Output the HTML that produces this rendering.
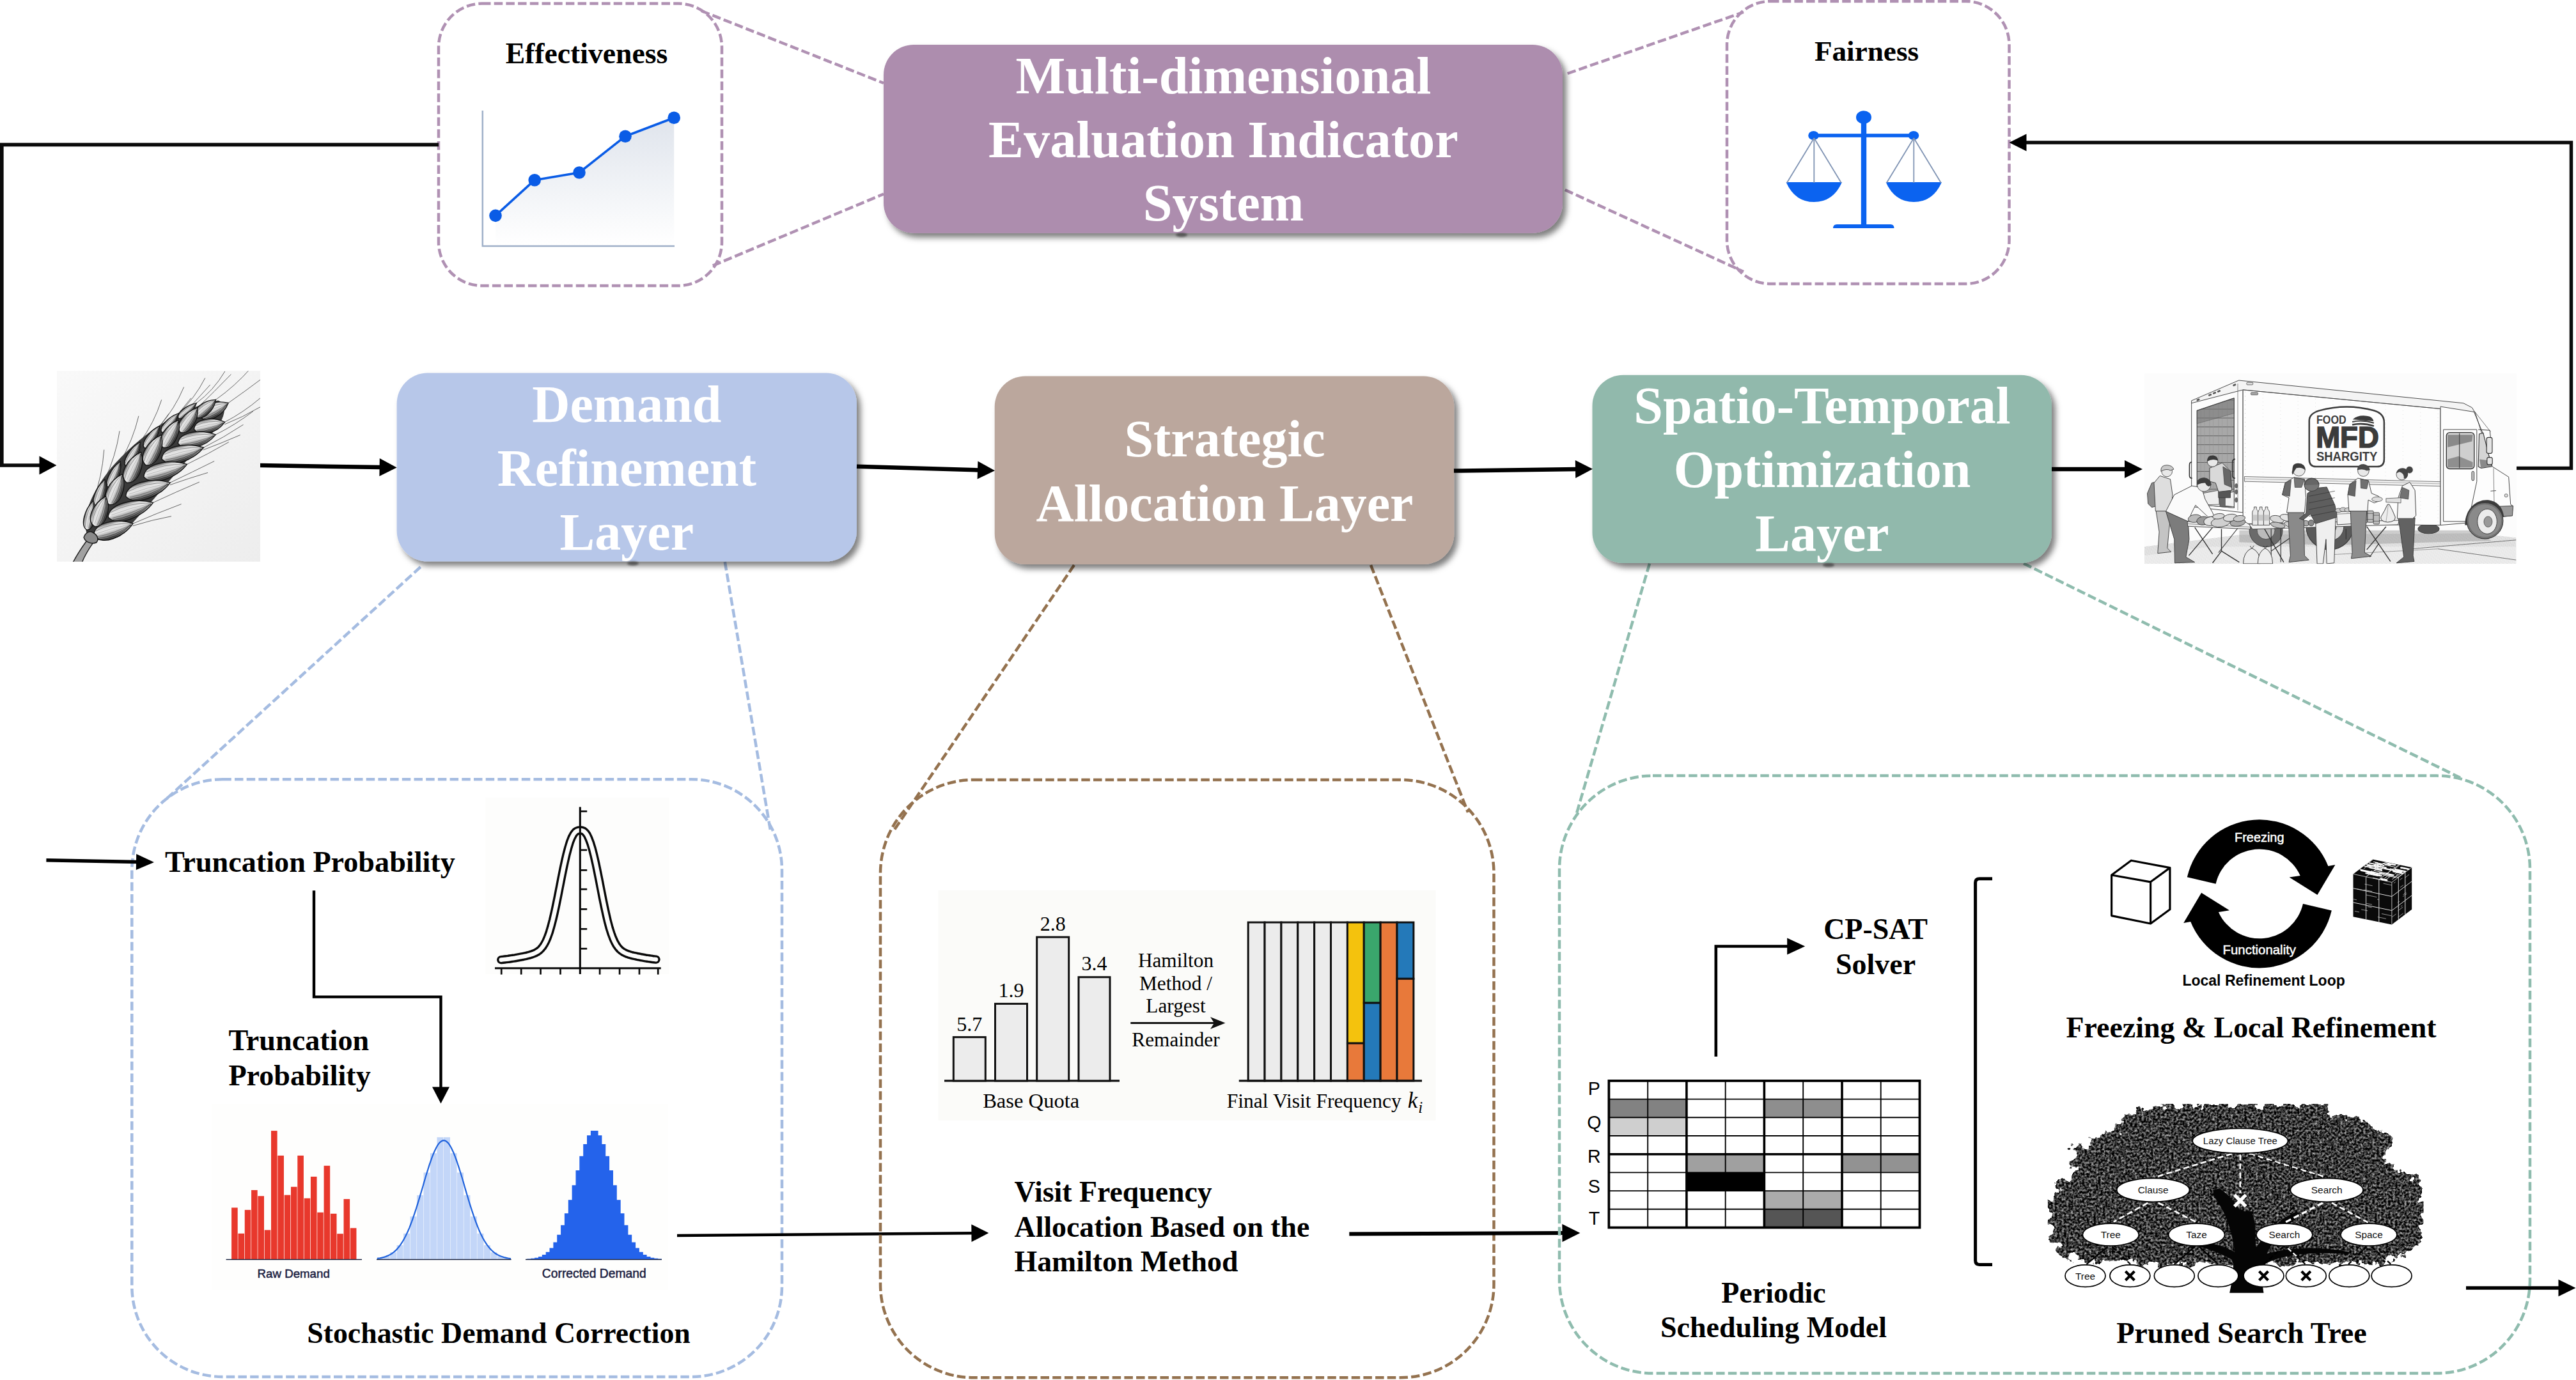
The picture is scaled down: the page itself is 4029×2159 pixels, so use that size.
<!DOCTYPE html>
<html><head><meta charset="utf-8"><title>Framework</title>
<style>
html,body{margin:0;padding:0;background:#fff;overflow:hidden;width:4029px;height:2159px}
svg{display:block}
text{white-space:pre}
</style></head><body>
<svg width="4029" height="2159" viewBox="0 0 4029 2159">
<defs>
<filter id="sh" x="-10%" y="-10%" width="125%" height="130%"><feDropShadow dx="6" dy="7" stdDeviation="5" flood-color="#000" flood-opacity="0.5"/></filter>
<filter id="tsh" x="-10%" y="-10%" width="125%" height="140%"><feDropShadow dx="3" dy="4" stdDeviation="2.5" flood-color="#000" flood-opacity="0.45"/></filter>
<filter id="blur2" x="-50%" y="-100%" width="200%" height="300%"><feGaussianBlur stdDeviation="1.6"/></filter>
<linearGradient id="effg" x1="0" y1="0" x2="0" y2="1"><stop offset="0" stop-color="#dfe4ec"/><stop offset="1" stop-color="#ffffff"/></linearGradient><linearGradient id="whbg" x1="0" y1="0" x2="1" y2="1"><stop offset="0" stop-color="#f9f9f9"/><stop offset="0.6" stop-color="#f2f2f2"/><stop offset="1" stop-color="#ededed"/></linearGradient>
<linearGradient id="grn" x1="0" y1="0" x2="0" y2="1" gradientUnits="objectBoundingBox"><stop offset="0" stop-color="#555"/><stop offset="0.2" stop-color="#d6d6d6"/><stop offset="0.45" stop-color="#ececec"/><stop offset="0.75" stop-color="#8c8c8c"/><stop offset="1" stop-color="#2a2a2a"/></linearGradient>
<clipPath id="whclip"><rect x="89" y="580.2" width="318" height="298.5"/></clipPath><pattern id="hatch" width="9" height="9" patternUnits="userSpaceOnUse" patternTransform="rotate(-20)"><rect width="9" height="9" fill="#ededed"/><line x1="0" y1="4" x2="9" y2="4" stroke="#a8a8a8" stroke-width="1.7"/></pattern>
<pattern id="slat" width="60" height="60" patternUnits="userSpaceOnUse"><rect width="60" height="60" fill="#a8a8a8"/><line x1="0" y1="2" x2="60" y2="2" stroke="#555" stroke-width="4"/><line x1="20" y1="0" x2="20" y2="60" stroke="#8a8a8a" stroke-width="2"/><line x1="45" y1="0" x2="45" y2="60" stroke="#949494" stroke-width="2"/></pattern>
<clipPath id="trclip"><rect x="60" y="58" width="2508" height="1288"/></clipPath><linearGradient id="redg" x1="0" y1="0" x2="0" y2="1"><stop offset="0" stop-color="#e53328"/><stop offset="1" stop-color="#ea3e31"/></linearGradient><filter id="fol" x="-5%" y="-8%" width="110%" height="116%" color-interpolation-filters="sRGB">
<feTurbulence type="fractalNoise" baseFrequency="0.07" numOctaves="3" seed="5" result="noise"/>
<feDisplacementMap in="SourceGraphic" in2="noise" scale="34" xChannelSelector="R" yChannelSelector="G" result="shape"/>
<feTurbulence type="fractalNoise" baseFrequency="0.28" numOctaves="3" seed="11" result="fine"/>
<feColorMatrix in="fine" type="matrix" values="1.4 0 0 0 -0.47  1.4 0 0 0 -0.47  1.4 0 0 0 -0.47  0 0 0 0 1" result="gray"/>
<feComposite in="gray" in2="shape" operator="in"/>
</filter><clipPath id="treeclip"><rect x="3202.8" y="1726.9" width="587.7" height="296.8"/></clipPath>
</defs>
<rect width="4029" height="2159" fill="#fff"/>
<line x1="1097" y1="17" x2="1382" y2="130" stroke="#b091b3" stroke-width="4.5" stroke-dasharray="13.5 5.2"/><line x1="1114.8" y1="415.6" x2="1382" y2="303.5" stroke="#b091b3" stroke-width="4.5" stroke-dasharray="13.5 5.2"/><line x1="2451.7" y1="115" x2="2727" y2="19" stroke="#b091b3" stroke-width="4.5" stroke-dasharray="13.5 5.2"/><line x1="2447.8" y1="297" x2="2727" y2="425" stroke="#b091b3" stroke-width="4.5" stroke-dasharray="13.5 5.2"/><rect x="686" y="5.6" width="443" height="441.4" rx="68" ry="68" fill="none" stroke="#b091b3" stroke-width="4.5" stroke-dasharray="13.5 5.2"/><text x="917.5" y="98.5" font-family='"Liberation Serif", serif' font-size="45.7" font-weight="bold" text-anchor="middle" fill="#000" >Effectiveness</text><rect x="2701" y="2" width="441.5" height="442" rx="68" ry="68" fill="none" stroke="#b091b3" stroke-width="4.5" stroke-dasharray="13.5 5.2"/><text x="2919.5" y="94.5" font-family='"Liberation Serif", serif' font-size="45.2" font-weight="bold" text-anchor="middle" fill="#000" >Fairness</text><rect x="1382" y="70" width="1062" height="294.7" rx="47" fill="#ad8dae" filter="url(#sh)"/><text x="1913.5" y="146.4" font-family='"Liberation Serif", serif' font-size="82.4" font-weight="bold" text-anchor="middle" fill="#fff" >Multi-dimensional</text><text x="1913.5" y="245.6" font-family='"Liberation Serif", serif' font-size="82.4" font-weight="bold" text-anchor="middle" fill="#fff" >Evaluation Indicator</text><text x="1913.5" y="344.7" font-family='"Liberation Serif", serif' font-size="82.4" font-weight="bold" text-anchor="middle" fill="#fff" >System</text><polygon points="775,337.4 836.2,281.7 906,270 978,213.2 1054.2,184.3 1054.2,383 775,383" fill="url(#effg)"/><polyline points="754.8,173 754.8,385 1055,385" fill="none" stroke="#9fb0c8" stroke-width="2.5"/><polyline points="775,337.4 836.2,281.7 906,270 978,213.2 1054.2,184.3" fill="none" stroke="#0a5ce6" stroke-width="3.6" stroke-linejoin="round"/><circle cx="775" cy="337.4" r="9.8" fill="#0a5ce6"/><circle cx="836.2" cy="281.7" r="9.8" fill="#0a5ce6"/><circle cx="906" cy="270" r="9.8" fill="#0a5ce6"/><circle cx="978" cy="213.2" r="9.8" fill="#0a5ce6"/><circle cx="1054.2" cy="184.3" r="9.8" fill="#0a5ce6"/><rect x="2910.8" y="184" width="8.4" height="168" fill="#0b63f0"/><ellipse cx="2915" cy="183.5" rx="12" ry="10.3" fill="#0b63f0"/><rect x="2836" y="209.2" width="157" height="5.6" fill="#0b63f0"/><ellipse cx="2836.5" cy="212" rx="8.3" ry="7" fill="#0b63f0"/><ellipse cx="2993" cy="212" rx="8.3" ry="7" fill="#0b63f0"/><path d="M2867 357 Q2867 351 2873 351 L2957 351 Q2962.5 351 2962.5 357 Z" fill="#0b63f0"/><path d="M2793.6000000000004 285 L2881.0 285 Q2867.3 316 2837.3 316 Q2807.3 316 2793.6000000000004 285 Z" fill="#0b63f0"/><line x1="2837.3" y1="216" x2="2794.8" y2="286" stroke="#7f93b3" stroke-width="1.8"/><line x1="2837.3" y1="216" x2="2837.3" y2="286" stroke="#7f93b3" stroke-width="1.8"/><line x1="2837.3" y1="216" x2="2879.8" y2="286" stroke="#7f93b3" stroke-width="1.8"/><path d="M2949.6000000000004 285 L3037.0 285 Q3023.3 316 2993.3 316 Q2963.3 316 2949.6000000000004 285 Z" fill="#0b63f0"/><line x1="2993.3" y1="216" x2="2950.8" y2="286" stroke="#7f93b3" stroke-width="1.8"/><line x1="2993.3" y1="216" x2="2993.3" y2="286" stroke="#7f93b3" stroke-width="1.8"/><line x1="2993.3" y1="216" x2="3035.8" y2="286" stroke="#7f93b3" stroke-width="1.8"/><polyline points="686,226.3 2.8,226.3 2.8,728 65,728" fill="none" stroke="#0b0b0b" stroke-width="5.7"/><polygon points="88.5,728.0 61.5,742.5 61.5,713.5" fill="#000"/><polyline points="3936,732.5 4021.5,732.5 4021.5,223 3168,223" fill="none" stroke="#0b0b0b" stroke-width="5.5"/><polygon points="3142.5,223.0 3169.5,209.5 3169.5,236.5" fill="#000"/><line x1="657.7" y1="887" x2="259.5" y2="1250.6" stroke="#a5bce1" stroke-width="4.5" stroke-dasharray="13.5 5.2"/><line x1="1133.8" y1="879" x2="1205" y2="1299.5" stroke="#a5bce1" stroke-width="4.5" stroke-dasharray="13.5 5.2"/><line x1="1680" y1="884" x2="1397.8" y2="1299.6" stroke="#94724f" stroke-width="4.5" stroke-dasharray="13.5 5.2"/><line x1="2144" y1="884" x2="2296" y2="1271" stroke="#94724f" stroke-width="4.5" stroke-dasharray="13.5 5.2"/><line x1="2580" y1="881.6" x2="2465" y2="1275.6" stroke="#8fbcae" stroke-width="4.5" stroke-dasharray="13.5 5.2"/><line x1="3165" y1="881.6" x2="3848" y2="1216.8" stroke="#8fbcae" stroke-width="4.5" stroke-dasharray="13.5 5.2"/><rect x="620.6" y="583.6" width="719.4" height="294.69999999999993" rx="48" fill="#b7c7e9" filter="url(#sh)"/><text x="980.3" y="660.3" font-family='"Liberation Serif", serif' font-size="82" font-weight="bold" text-anchor="middle" fill="#fff" >Demand</text><text x="980.3" y="760.2" font-family='"Liberation Serif", serif' font-size="82" font-weight="bold" text-anchor="middle" fill="#fff" >Refinement</text><text x="980.3" y="860" font-family='"Liberation Serif", serif' font-size="82" font-weight="bold" text-anchor="middle" fill="#fff" >Layer</text><rect x="1555.7" y="588.4" width="718.6000000000001" height="294.6" rx="48" fill="#bba79d" filter="url(#sh)"/><text x="1915.5" y="714.4" font-family='"Liberation Serif", serif' font-size="82" font-weight="bold" text-anchor="middle" fill="#fff" >Strategic</text><text x="1915.5" y="814.5" font-family='"Liberation Serif", serif' font-size="82" font-weight="bold" text-anchor="middle" fill="#fff" >Allocation Layer</text><rect x="2490.5" y="586.8" width="718.5" height="294.20000000000005" rx="48" fill="#91b9ac" filter="url(#sh)"/><text x="2850" y="662" font-family='"Liberation Serif", serif' font-size="82" font-weight="bold" text-anchor="middle" fill="#fff" >Spatio-Temporal</text><text x="2850" y="762" font-family='"Liberation Serif", serif' font-size="82" font-weight="bold" text-anchor="middle" fill="#fff" >Optimization</text><text x="2850" y="861.7" font-family='"Liberation Serif", serif' font-size="82" font-weight="bold" text-anchor="middle" fill="#fff" >Layer</text><polyline points="407.0,728.0 595.6,731.1" fill="none" stroke="#000" stroke-width="6.5" stroke-linejoin="miter"/><polygon points="620.6,731.5 593.4,745.1 593.8,717.1" fill="#000"/><polyline points="1340.0,729.7 1531.0,735.4" fill="none" stroke="#000" stroke-width="6.5" stroke-linejoin="miter"/><polygon points="1556.0,736.2 1528.6,749.4 1529.4,721.4" fill="#000"/><polyline points="2274.0,736.6 2466.0,734.1" fill="none" stroke="#000" stroke-width="6.5" stroke-linejoin="miter"/><polygon points="2491.0,733.8 2464.2,748.1 2463.8,720.1" fill="#000"/><polyline points="3209.0,734.0 3325.0,734.0" fill="none" stroke="#000" stroke-width="6.5" stroke-linejoin="miter"/><polygon points="3351.0,734.0 3323.0,748.0 3323.0,720.0" fill="#000"/><ellipse cx="1848" cy="367.5" rx="9" ry="3.2" fill="#222" opacity="0.55" filter="url(#blur2)"/><ellipse cx="990" cy="881.5" rx="9" ry="3.2" fill="#222" opacity="0.55" filter="url(#blur2)"/><ellipse cx="2860" cy="884" rx="9" ry="3.2" fill="#222" opacity="0.55" filter="url(#blur2)"/><rect x="89" y="580.2" width="318" height="298.5" fill="url(#whbg)"/><g clip-path="url(#whclip)"><g transform="translate(70,560) scale(0.2464)"><path d="M270,1130 C230,1000 300,850 420,700 C560,540 800,330 1100,270 C1180,300 1130,420 1040,500 C900,640 700,900 480,1130 C420,1160 320,1170 270,1130 Z" fill="#3a3a3a"/><path d="M559.3,1052.0 Q710.6,986.2 865.3,928.4" fill="none" stroke="#4a4a4a" stroke-width="3.4" stroke-linecap="round"/><path d="M559.3,1066.0 Q678.5,1028.4 801.9,1005.5" fill="none" stroke="#4a4a4a" stroke-width="3.4" stroke-linecap="round"/><path d="M687.7,918.6 Q832.7,851.0 980.0,788.5" fill="none" stroke="#4a4a4a" stroke-width="3.4" stroke-linecap="round"/><path d="M796.1,791.9 Q936.0,725.1 1074.7,656.0" fill="none" stroke="#4a4a4a" stroke-width="3.4" stroke-linecap="round"/><path d="M796.1,805.9 Q913.9,764.1 1033.8,728.6" fill="none" stroke="#4a4a4a" stroke-width="3.4" stroke-linecap="round"/><path d="M902.0,675.7 Q1036.8,610.0 1166.9,534.9" fill="none" stroke="#4a4a4a" stroke-width="3.4" stroke-linecap="round"/><path d="M1007.8,569.4 Q1137.6,504.7 1259.0,424.4" fill="none" stroke="#4a4a4a" stroke-width="3.4" stroke-linecap="round"/><path d="M1007.8,583.4 Q1124.9,539.6 1239.6,489.8" fill="none" stroke="#4a4a4a" stroke-width="3.4" stroke-linecap="round"/><path d="M1084.4,487.4 Q1209.7,425.0 1321.8,339.1" fill="none" stroke="#4a4a4a" stroke-width="3.4" stroke-linecap="round"/><path d="M1142.4,407.5 Q1262.2,345.2 1366.3,256.5" fill="none" stroke="#4a4a4a" stroke-width="3.4" stroke-linecap="round"/><path d="M1142.4,421.5 Q1258.7,375.7 1367.1,311.9" fill="none" stroke="#4a4a4a" stroke-width="3.4" stroke-linecap="round"/><path d="M1164.9,286.2 Q1271.4,211.6 1375.2,133.3" fill="none" stroke="#4a4a4a" stroke-width="3.4" stroke-linecap="round"/><path d="M387.1,878.7 Q464.3,750.1 537.1,618.9" fill="none" stroke="#4a4a4a" stroke-width="3.4" stroke-linecap="round"/><path d="M491.0,738.3 Q574.9,614.0 654.4,486.7" fill="none" stroke="#4a4a4a" stroke-width="3.4" stroke-linecap="round"/><path d="M610.4,597.6 Q699.7,477.0 786.8,354.9" fill="none" stroke="#4a4a4a" stroke-width="3.4" stroke-linecap="round"/><path d="M738.8,489.2 Q833.2,372.6 927.6,256.1" fill="none" stroke="#4a4a4a" stroke-width="3.4" stroke-linecap="round"/><path d="M848.5,394.5 Q947.9,282.2 1049.2,171.6" fill="none" stroke="#4a4a4a" stroke-width="3.4" stroke-linecap="round"/><path d="M969.5,317.2 Q1077.4,213.0 1181.6,105.0" fill="none" stroke="#4a4a4a" stroke-width="3.4" stroke-linecap="round"/><path d="M1085.1,265.4 Q1208.0,179.3 1308.1,64.6" fill="none" stroke="#4a4a4a" stroke-width="3.4" stroke-linecap="round"/><path d="M307.8,907.1 Q364.2,752.0 376.4,584.3" fill="none" stroke="#4a4a4a" stroke-width="3.4" stroke-linecap="round"/><path d="M381.4,771.6 Q450.2,627.2 474.9,465.6" fill="none" stroke="#4a4a4a" stroke-width="3.4" stroke-linecap="round"/><path d="M479.6,657.5 Q559.5,524.6 595.8,370.1" fill="none" stroke="#4a4a4a" stroke-width="3.4" stroke-linecap="round"/><path d="M605.0,534.1 Q694.2,413.5 741.2,266.8" fill="none" stroke="#4a4a4a" stroke-width="3.4" stroke-linecap="round"/><path d="M728.8,432.4 Q824.8,323.8 882.4,186.4" fill="none" stroke="#4a4a4a" stroke-width="3.4" stroke-linecap="round"/><path d="M848.5,352.5 Q951.7,258.0 1017.0,128.9" fill="none" stroke="#4a4a4a" stroke-width="3.4" stroke-linecap="round"/><path d="M962.5,286.8 Q1071.7,207.4 1143.1,86.1" fill="none" stroke="#4a4a4a" stroke-width="3.4" stroke-linecap="round"/><g transform="translate(985.1,373.8) rotate(-26.0)"><path d="M0,0 C20.0,-68.9 132.0,-57.0 200.0,0 C140.0,57.0 24.0,68.9 0,0 Z" fill="url(#grn)" stroke="#151515" stroke-width="6"/><path d="M16.0,11.4 Q100.0,22.1 190.0,1.4" fill="none" stroke="#666" stroke-width="3"/><path d="M16.0,20.9 Q100.0,40.5 190.0,2.6" fill="none" stroke="#333" stroke-width="3"/><path d="M16.0,28.5 Q100.0,55.2 190.0,3.6" fill="none" stroke="#222" stroke-width="3"/><path d="M16.0,-5.7 Q100.0,-11.0 190.0,-0.7" fill="none" stroke="#aaa" stroke-width="3"/><path d="M16.0,-20.9 Q100.0,-40.5 190.0,-2.6" fill="none" stroke="#777" stroke-width="3"/></g><g transform="translate(847.5,383.2) rotate(-40.0)"><path d="M0,0 C15.0,-34.8 99.0,-28.8 150.0,0 C105.0,28.8 18.0,34.8 0,0 Z" fill="url(#grn)" stroke="#151515" stroke-width="6"/><path d="M12.0,5.8 Q75.0,11.2 142.5,0.7" fill="none" stroke="#666" stroke-width="3"/><path d="M12.0,10.6 Q75.0,20.5 142.5,1.3" fill="none" stroke="#333" stroke-width="3"/><path d="M12.0,14.4 Q75.0,27.9 142.5,1.8" fill="none" stroke="#222" stroke-width="3"/><path d="M12.0,-2.9 Q75.0,-5.6 142.5,-0.4" fill="none" stroke="#aaa" stroke-width="3"/><path d="M12.0,-10.6 Q75.0,-20.5 142.5,-1.3" fill="none" stroke="#777" stroke-width="3"/></g><g transform="translate(954.9,374.6) rotate(-40.0)"><path d="M0,0 C17.0,-54.4 112.2,-45.0 170.0,0 C119.0,45.0 20.4,54.4 0,0 Z" fill="url(#grn)" stroke="#151515" stroke-width="6"/><path d="M13.6,9.0 Q85.0,17.4 161.5,1.1" fill="none" stroke="#666" stroke-width="3"/><path d="M13.6,16.5 Q85.0,32.0 161.5,2.1" fill="none" stroke="#333" stroke-width="3"/><path d="M13.6,22.5 Q85.0,43.6 161.5,2.8" fill="none" stroke="#222" stroke-width="3"/><path d="M13.6,-4.5 Q85.0,-8.7 161.5,-0.6" fill="none" stroke="#aaa" stroke-width="3"/><path d="M13.6,-16.5 Q85.0,-32.0 161.5,-2.1" fill="none" stroke="#777" stroke-width="3"/></g><g transform="translate(947.6,452.5) rotate(-13.0)"><path d="M0,0 C20.0,-65.2 132.0,-54.0 200.0,0 C140.0,54.0 24.0,65.2 0,0 Z" fill="url(#grn)" stroke="#151515" stroke-width="6"/><path d="M16.0,10.8 Q100.0,20.9 190.0,1.4" fill="none" stroke="#666" stroke-width="3"/><path d="M16.0,19.8 Q100.0,38.4 190.0,2.5" fill="none" stroke="#333" stroke-width="3"/><path d="M16.0,27.0 Q100.0,52.3 190.0,3.4" fill="none" stroke="#222" stroke-width="3"/><path d="M16.0,-5.4 Q100.0,-10.5 190.0,-0.7" fill="none" stroke="#aaa" stroke-width="3"/><path d="M16.0,-19.8 Q100.0,-38.4 190.0,-2.5" fill="none" stroke="#777" stroke-width="3"/></g><g transform="translate(741.5,471.5) rotate(-48.0)"><path d="M0,0 C16.0,-37.7 105.6,-31.2 160.0,0 C112.0,31.2 19.2,37.7 0,0 Z" fill="url(#grn)" stroke="#151515" stroke-width="6"/><path d="M12.8,6.2 Q80.0,12.1 152.0,0.8" fill="none" stroke="#666" stroke-width="3"/><path d="M12.8,11.4 Q80.0,22.2 152.0,1.4" fill="none" stroke="#333" stroke-width="3"/><path d="M12.8,15.6 Q80.0,30.2 152.0,2.0" fill="none" stroke="#222" stroke-width="3"/><path d="M12.8,-3.1 Q80.0,-6.0 152.0,-0.4" fill="none" stroke="#aaa" stroke-width="3"/><path d="M12.8,-11.4 Q80.0,-22.2 152.0,-1.4" fill="none" stroke="#777" stroke-width="3"/></g><g transform="translate(860.5,472.8) rotate(-55.0)"><path d="M0,0 C19.0,-61.6 125.4,-51.0 190.0,0 C133.0,51.0 22.8,61.6 0,0 Z" fill="url(#grn)" stroke="#151515" stroke-width="6"/><path d="M15.2,10.2 Q95.0,19.8 180.5,1.3" fill="none" stroke="#666" stroke-width="3"/><path d="M15.2,18.7 Q95.0,36.2 180.5,2.3" fill="none" stroke="#333" stroke-width="3"/><path d="M15.2,25.5 Q95.0,49.4 180.5,3.2" fill="none" stroke="#222" stroke-width="3"/><path d="M15.2,-5.1 Q95.0,-9.9 180.5,-0.6" fill="none" stroke="#aaa" stroke-width="3"/><path d="M15.2,-18.7 Q95.0,-36.2 180.5,-2.3" fill="none" stroke="#777" stroke-width="3"/></g><g transform="translate(845.6,542.6) rotate(-13.0)"><path d="M0,0 C24.5,-71.0 161.7,-58.8 245.0,0 C171.5,58.8 29.4,71.0 0,0 Z" fill="url(#grn)" stroke="#151515" stroke-width="6"/><path d="M19.6,11.8 Q122.5,22.8 232.8,1.5" fill="none" stroke="#666" stroke-width="3"/><path d="M19.6,21.6 Q122.5,41.8 232.8,2.7" fill="none" stroke="#333" stroke-width="3"/><path d="M19.6,29.4 Q122.5,57.0 232.8,3.7" fill="none" stroke="#222" stroke-width="3"/><path d="M19.6,-5.9 Q122.5,-11.4 232.8,-0.7" fill="none" stroke="#aaa" stroke-width="3"/><path d="M19.6,-21.6 Q122.5,-41.8 232.8,-2.7" fill="none" stroke="#777" stroke-width="3"/></g><g transform="translate(631.2,571.6) rotate(-55.0)"><path d="M0,0 C17.0,-40.6 112.2,-33.6 170.0,0 C119.0,33.6 20.4,40.6 0,0 Z" fill="url(#grn)" stroke="#151515" stroke-width="6"/><path d="M13.6,6.7 Q85.0,13.0 161.5,0.8" fill="none" stroke="#666" stroke-width="3"/><path d="M13.6,12.3 Q85.0,23.9 161.5,1.5" fill="none" stroke="#333" stroke-width="3"/><path d="M13.6,16.8 Q85.0,32.6 161.5,2.1" fill="none" stroke="#222" stroke-width="3"/><path d="M13.6,-3.4 Q85.0,-6.5 161.5,-0.4" fill="none" stroke="#aaa" stroke-width="3"/><path d="M13.6,-12.3 Q85.0,-23.9 161.5,-1.5" fill="none" stroke="#777" stroke-width="3"/></g><g transform="translate(751.5,569.5) rotate(-61.0)"><path d="M0,0 C20.0,-66.7 132.0,-55.2 200.0,0 C140.0,55.2 24.0,66.7 0,0 Z" fill="url(#grn)" stroke="#151515" stroke-width="6"/><path d="M16.0,11.0 Q100.0,21.4 190.0,1.4" fill="none" stroke="#666" stroke-width="3"/><path d="M16.0,20.2 Q100.0,39.2 190.0,2.5" fill="none" stroke="#333" stroke-width="3"/><path d="M16.0,27.6 Q100.0,53.5 190.0,3.5" fill="none" stroke="#222" stroke-width="3"/><path d="M16.0,-5.5 Q100.0,-10.7 190.0,-0.7" fill="none" stroke="#aaa" stroke-width="3"/><path d="M16.0,-20.2 Q100.0,-39.2 190.0,-2.5" fill="none" stroke="#777" stroke-width="3"/></g><g transform="translate(742.2,640.6) rotate(-15.0)"><path d="M0,0 C27.5,-76.1 181.5,-63.0 275.0,0 C192.5,63.0 33.0,76.1 0,0 Z" fill="url(#grn)" stroke="#151515" stroke-width="6"/><path d="M22.0,12.6 Q137.5,24.4 261.2,1.6" fill="none" stroke="#666" stroke-width="3"/><path d="M22.0,23.1 Q137.5,44.8 261.2,2.9" fill="none" stroke="#333" stroke-width="3"/><path d="M22.0,31.5 Q137.5,61.0 261.2,3.9" fill="none" stroke="#222" stroke-width="3"/><path d="M22.0,-6.3 Q137.5,-12.2 261.2,-0.8" fill="none" stroke="#aaa" stroke-width="3"/><path d="M22.0,-23.1 Q137.5,-44.8 261.2,-2.9" fill="none" stroke="#777" stroke-width="3"/></g><g transform="translate(515.0,689.9) rotate(-60.0)"><path d="M0,0 C18.0,-43.5 118.8,-36.0 180.0,0 C126.0,36.0 21.6,43.5 0,0 Z" fill="url(#grn)" stroke="#151515" stroke-width="6"/><path d="M14.4,7.2 Q90.0,14.0 171.0,0.9" fill="none" stroke="#666" stroke-width="3"/><path d="M14.4,13.2 Q90.0,25.6 171.0,1.7" fill="none" stroke="#333" stroke-width="3"/><path d="M14.4,18.0 Q90.0,34.9 171.0,2.2" fill="none" stroke="#222" stroke-width="3"/><path d="M14.4,-3.6 Q90.0,-7.0 171.0,-0.5" fill="none" stroke="#aaa" stroke-width="3"/><path d="M14.4,-13.2 Q90.0,-25.6 171.0,-1.7" fill="none" stroke="#777" stroke-width="3"/></g><g transform="translate(641.2,680.8) rotate(-63.0)"><path d="M0,0 C21.5,-71.0 141.9,-58.8 215.0,0 C150.5,58.8 25.8,71.0 0,0 Z" fill="url(#grn)" stroke="#151515" stroke-width="6"/><path d="M17.2,11.8 Q107.5,22.8 204.2,1.5" fill="none" stroke="#666" stroke-width="3"/><path d="M17.2,21.6 Q107.5,41.8 204.2,2.7" fill="none" stroke="#333" stroke-width="3"/><path d="M17.2,29.4 Q107.5,57.0 204.2,3.7" fill="none" stroke="#222" stroke-width="3"/><path d="M17.2,-5.9 Q107.5,-11.4 204.2,-0.7" fill="none" stroke="#aaa" stroke-width="3"/><path d="M17.2,-21.6 Q107.5,-41.8 204.2,-2.7" fill="none" stroke="#777" stroke-width="3"/></g><g transform="translate(628.0,754.3) rotate(-16.0)"><path d="M0,0 C28.5,-79.8 188.1,-66.0 285.0,0 C199.5,66.0 34.2,79.8 0,0 Z" fill="url(#grn)" stroke="#151515" stroke-width="6"/><path d="M22.8,13.2 Q142.5,25.6 270.8,1.7" fill="none" stroke="#666" stroke-width="3"/><path d="M22.8,24.2 Q142.5,46.9 270.8,3.0" fill="none" stroke="#333" stroke-width="3"/><path d="M22.8,33.0 Q142.5,63.9 270.8,4.1" fill="none" stroke="#222" stroke-width="3"/><path d="M22.8,-6.6 Q142.5,-12.8 270.8,-0.8" fill="none" stroke="#aaa" stroke-width="3"/><path d="M22.8,-24.2 Q142.5,-46.9 270.8,-3.0" fill="none" stroke="#777" stroke-width="3"/></g><g transform="translate(404.4,826.5) rotate(-66.0)"><path d="M0,0 C18.5,-44.9 122.1,-37.2 185.0,0 C129.5,37.2 22.2,44.9 0,0 Z" fill="url(#grn)" stroke="#151515" stroke-width="6"/><path d="M14.8,7.4 Q92.5,14.4 175.8,0.9" fill="none" stroke="#666" stroke-width="3"/><path d="M14.8,13.6 Q92.5,26.4 175.8,1.7" fill="none" stroke="#333" stroke-width="3"/><path d="M14.8,18.6 Q92.5,36.0 175.8,2.3" fill="none" stroke="#222" stroke-width="3"/><path d="M14.8,-3.7 Q92.5,-7.2 175.8,-0.5" fill="none" stroke="#aaa" stroke-width="3"/><path d="M14.8,-13.6 Q92.5,-26.4 175.8,-1.7" fill="none" stroke="#777" stroke-width="3"/></g><g transform="translate(519.6,792.4) rotate(-65.0)"><path d="M0,0 C21.5,-72.5 141.9,-60.0 215.0,0 C150.5,60.0 25.8,72.5 0,0 Z" fill="url(#grn)" stroke="#151515" stroke-width="6"/><path d="M17.2,12.0 Q107.5,23.2 204.2,1.5" fill="none" stroke="#666" stroke-width="3"/><path d="M17.2,22.0 Q107.5,42.6 204.2,2.8" fill="none" stroke="#333" stroke-width="3"/><path d="M17.2,30.0 Q107.5,58.1 204.2,3.8" fill="none" stroke="#222" stroke-width="3"/><path d="M17.2,-6.0 Q107.5,-11.6 204.2,-0.8" fill="none" stroke="#aaa" stroke-width="3"/><path d="M17.2,-22.0 Q107.5,-42.6 204.2,-2.8" fill="none" stroke="#777" stroke-width="3"/></g><g transform="translate(513.9,878.1) rotate(-17.0)"><path d="M0,0 C29.5,-81.2 194.7,-67.2 295.0,0 C206.5,67.2 35.4,81.2 0,0 Z" fill="url(#grn)" stroke="#151515" stroke-width="6"/><path d="M23.6,13.4 Q147.5,26.0 280.2,1.7" fill="none" stroke="#666" stroke-width="3"/><path d="M23.6,24.6 Q147.5,47.7 280.2,3.1" fill="none" stroke="#333" stroke-width="3"/><path d="M23.6,33.6 Q147.5,65.1 280.2,4.2" fill="none" stroke="#222" stroke-width="3"/><path d="M23.6,-6.7 Q147.5,-13.0 280.2,-0.8" fill="none" stroke="#aaa" stroke-width="3"/><path d="M23.6,-24.6 Q147.5,-47.7 280.2,-3.1" fill="none" stroke="#777" stroke-width="3"/></g><g transform="translate(322.6,952.4) rotate(-72.0)"><path d="M0,0 C19.0,-47.9 125.4,-39.6 190.0,0 C133.0,39.6 22.8,47.9 0,0 Z" fill="url(#grn)" stroke="#151515" stroke-width="6"/><path d="M15.2,7.9 Q95.0,15.3 180.5,1.0" fill="none" stroke="#666" stroke-width="3"/><path d="M15.2,14.5 Q95.0,28.1 180.5,1.8" fill="none" stroke="#333" stroke-width="3"/><path d="M15.2,19.8 Q95.0,38.4 180.5,2.5" fill="none" stroke="#222" stroke-width="3"/><path d="M15.2,-4.0 Q95.0,-7.7 180.5,-0.5" fill="none" stroke="#aaa" stroke-width="3"/><path d="M15.2,-14.5 Q95.0,-28.1 180.5,-1.8" fill="none" stroke="#777" stroke-width="3"/></g><g transform="translate(409.0,931.7) rotate(-67.0)"><path d="M0,0 C21.0,-72.5 138.6,-60.0 210.0,0 C147.0,60.0 25.2,72.5 0,0 Z" fill="url(#grn)" stroke="#151515" stroke-width="6"/><path d="M16.8,12.0 Q105.0,23.2 199.5,1.5" fill="none" stroke="#666" stroke-width="3"/><path d="M16.8,22.0 Q105.0,42.6 199.5,2.8" fill="none" stroke="#333" stroke-width="3"/><path d="M16.8,30.0 Q105.0,58.1 199.5,3.8" fill="none" stroke="#222" stroke-width="3"/><path d="M16.8,-6.0 Q105.0,-11.6 199.5,-0.8" fill="none" stroke="#aaa" stroke-width="3"/><path d="M16.8,-22.0 Q105.0,-42.6 199.5,-2.8" fill="none" stroke="#777" stroke-width="3"/></g><g transform="translate(402.3,1011.4) rotate(-18.0)"><path d="M0,0 C30.0,-81.2 198.0,-67.2 300.0,0 C210.0,67.2 36.0,81.2 0,0 Z" fill="url(#grn)" stroke="#151515" stroke-width="6"/><path d="M24.0,13.4 Q150.0,26.0 285.0,1.7" fill="none" stroke="#666" stroke-width="3"/><path d="M24.0,24.6 Q150.0,47.7 285.0,3.1" fill="none" stroke="#333" stroke-width="3"/><path d="M24.0,33.6 Q150.0,65.1 285.0,4.2" fill="none" stroke="#222" stroke-width="3"/><path d="M24.0,-6.7 Q150.0,-13.0 285.0,-0.8" fill="none" stroke="#aaa" stroke-width="3"/><path d="M24.0,-24.6 Q150.0,-47.7 285.0,-3.1" fill="none" stroke="#777" stroke-width="3"/></g><g transform="translate(268.2,1092.9) rotate(-78.0)"><path d="M0,0 C19.0,-50.8 125.4,-42.0 190.0,0 C133.0,42.0 22.8,50.8 0,0 Z" fill="url(#grn)" stroke="#151515" stroke-width="6"/><path d="M15.2,8.4 Q95.0,16.3 180.5,1.1" fill="none" stroke="#666" stroke-width="3"/><path d="M15.2,15.4 Q95.0,29.8 180.5,1.9" fill="none" stroke="#333" stroke-width="3"/><path d="M15.2,21.0 Q95.0,40.7 180.5,2.6" fill="none" stroke="#222" stroke-width="3"/><path d="M15.2,-4.2 Q95.0,-8.1 180.5,-0.5" fill="none" stroke="#aaa" stroke-width="3"/><path d="M15.2,-15.4 Q95.0,-29.8 180.5,-1.9" fill="none" stroke="#777" stroke-width="3"/></g><g transform="translate(316.9,1071.3) rotate(-70.0)"><path d="M0,0 C20.5,-72.5 135.3,-60.0 205.0,0 C143.5,60.0 24.6,72.5 0,0 Z" fill="url(#grn)" stroke="#151515" stroke-width="6"/><path d="M16.4,12.0 Q102.5,23.2 194.8,1.5" fill="none" stroke="#666" stroke-width="3"/><path d="M16.4,22.0 Q102.5,42.6 194.8,2.8" fill="none" stroke="#333" stroke-width="3"/><path d="M16.4,30.0 Q102.5,58.1 194.8,3.8" fill="none" stroke="#222" stroke-width="3"/><path d="M16.4,-6.0 Q102.5,-11.6 194.8,-0.8" fill="none" stroke="#aaa" stroke-width="3"/><path d="M16.4,-22.0 Q102.5,-42.6 194.8,-2.8" fill="none" stroke="#777" stroke-width="3"/></g><g transform="translate(310.7,1128.0) rotate(-17.0)"><path d="M0,0 C26.0,-79.8 171.6,-66.0 260.0,0 C182.0,66.0 31.2,79.8 0,0 Z" fill="url(#grn)" stroke="#151515" stroke-width="6"/><path d="M20.8,13.2 Q130.0,25.6 247.0,1.7" fill="none" stroke="#666" stroke-width="3"/><path d="M20.8,24.2 Q130.0,46.9 247.0,3.0" fill="none" stroke="#333" stroke-width="3"/><path d="M20.8,33.0 Q130.0,63.9 247.0,4.1" fill="none" stroke="#222" stroke-width="3"/><path d="M20.8,-6.6 Q130.0,-12.8 247.0,-0.8" fill="none" stroke="#aaa" stroke-width="3"/><path d="M20.8,-24.2 Q130.0,-46.9 247.0,-3.0" fill="none" stroke="#777" stroke-width="3"/></g><path d="M178,1300 C215,1230 245,1190 268,1158 L308,1172 C285,1205 255,1248 236,1300 Z" fill="#a2a2a2" stroke="#222" stroke-width="6"/><path d="M248,1140 C258,1108 285,1096 305,1108 C335,1125 345,1150 328,1172 C300,1184 258,1172 248,1140 Z" fill="#8a8a8a" stroke="#1a1a1a" stroke-width="6"/></g></g><rect x="3354" y="584" width="582" height="298" fill="#fcfcfc"/><g transform="translate(3340,570) scale(0.2319)" clip-path="url(#trclip)"><polygon points="60,1230 700,1150 2300,1140 2568,1170 2568,1346 60,1346" fill="url(#hatch)"/><polygon points="60,1346 60,1290 500,1230 2568,1230 2568,1346" fill="#fff" opacity="0.35"/><polygon points="700,1120 2300,1120 2400,1190 1300,1220 700,1200" fill="#8c8c8c" opacity="0.42"/><line x1="1860" y1="1245" x2="2568" y2="1185" stroke="#666" stroke-width="4" /><line x1="2040" y1="1245" x2="2568" y2="1320" stroke="#666" stroke-width="4" /><line x1="1300" y1="1285" x2="2040" y2="1245" stroke="#777" stroke-width="3" /><ellipse cx="880" cy="1120" rx="112" ry="112" fill="#6a6a6a" stroke="#3a3a3a" stroke-width="4"/><ellipse cx="880" cy="1120" rx="60" ry="60" fill="#bbb" stroke="#3a3a3a" stroke-width="3"/><ellipse cx="1977" cy="1110" rx="72" ry="32" fill="#555" stroke="#3a3a3a" stroke-width="4"/><ellipse cx="1310" cy="1090" rx="160" ry="160" fill="#5a5a5a" stroke="#3a3a3a" stroke-width="5"/><ellipse cx="1310" cy="1095" rx="95" ry="95" fill="#d8d8d8" stroke="#3a3a3a" stroke-width="4"/><ellipse cx="1310" cy="1095" rx="45" ry="45" fill="#aaa" stroke="#3a3a3a" stroke-width="3"/><polygon points="378,258 697,112 725,120 725,1000 378,960" fill="#fcfcfc" stroke="#3a3a3a" stroke-width="4" stroke-linejoin="round" /><polygon points="415,312 665,228 665,968 415,945" fill="url(#slat)" stroke="#3a3a3a" stroke-width="5" stroke-linejoin="round" /><polygon points="415,312 665,228 665,330 415,400" fill="#777" stroke="#3a3a3a" stroke-width="3" stroke-linejoin="round" opacity="0.55"/><polygon points="440,900 665,915 665,968 415,945 415,900" fill="#e9e9e9" stroke="#3a3a3a" stroke-width="3" stroke-linejoin="round" /><polygon points="725,165 2057,285 2057,1085 725,1075" fill="#fdfdfd" stroke="#3a3a3a" stroke-width="4" stroke-linejoin="round" /><polygon points="697,108 2212,262 2270,292 2290,325 2057,300 725,172 378,262 378,245" fill="#f4f4f4" stroke="#3a3a3a" stroke-width="4" stroke-linejoin="round" /><line x1="725" y1="172" x2="2057" y2="300" stroke="#3a3a3a" stroke-width="3" /><rect x="410" y="238" width="22" height="12" rx="4" fill="#555" transform="rotate(-23 410 238)"/><rect x="490" y="205" width="22" height="12" rx="4" fill="#555" transform="rotate(-23 490 205)"/><rect x="520" y="192" width="22" height="12" rx="4" fill="#555" transform="rotate(-23 520 192)"/><rect x="550" y="180" width="22" height="12" rx="4" fill="#555" transform="rotate(-23 550 180)"/><rect x="655" y="138" width="22" height="12" rx="4" fill="#555" transform="rotate(-23 655 138)"/><rect x="750" y="122" width="42" height="16" rx="5" fill="#ddd" stroke="#333" stroke-width="3"/><rect x="778" y="190" width="48" height="16" rx="6" fill="#aaa" stroke="#333" stroke-width="3"/><line x1="860" y1="202.15" x2="860" y2="1070" stroke="#bdbdbd" stroke-width="2.5" stroke-dasharray="3 22"/><line x1="978" y1="212.77" x2="978" y2="1070" stroke="#bdbdbd" stroke-width="2.5" stroke-dasharray="3 22"/><line x1="1096" y1="223.39" x2="1096" y2="1070" stroke="#bdbdbd" stroke-width="2.5" stroke-dasharray="3 22"/><line x1="1214" y1="234.01" x2="1214" y2="1070" stroke="#bdbdbd" stroke-width="2.5" stroke-dasharray="3 22"/><line x1="1332" y1="244.63" x2="1332" y2="1070" stroke="#bdbdbd" stroke-width="2.5" stroke-dasharray="3 22"/><line x1="1450" y1="255.25" x2="1450" y2="1070" stroke="#bdbdbd" stroke-width="2.5" stroke-dasharray="3 22"/><line x1="1568" y1="265.87" x2="1568" y2="1070" stroke="#bdbdbd" stroke-width="2.5" stroke-dasharray="3 22"/><line x1="1686" y1="276.49" x2="1686" y2="1070" stroke="#bdbdbd" stroke-width="2.5" stroke-dasharray="3 22"/><line x1="1804" y1="287.11" x2="1804" y2="1070" stroke="#bdbdbd" stroke-width="2.5" stroke-dasharray="3 22"/><line x1="1922" y1="297.73" x2="1922" y2="1070" stroke="#bdbdbd" stroke-width="2.5" stroke-dasharray="3 22"/><line x1="2040" y1="308.35" x2="2040" y2="1070" stroke="#bdbdbd" stroke-width="2.5" stroke-dasharray="3 22"/><line x1="740" y1="185" x2="740" y2="1070" stroke="#999" stroke-width="3" stroke-dasharray="3 26"/><polygon points="735,757 2057,792 2057,822 735,790" fill="#f2f2f2" stroke="#3a3a3a" stroke-width="3" stroke-linejoin="round" /><line x1="735" y1="772" x2="2057" y2="806" stroke="#777" stroke-width="2.5" /><line x1="690" y1="130" x2="690" y2="985" stroke="#555" stroke-width="3" /><path d="M380,660 q-16,0 -16,20 v70 q0,18 18,18" fill="none" stroke="#333" stroke-width="7"/><path d="M672,640 q-18,0 -18,20 v90 q0,18 18,18" fill="none" stroke="#333" stroke-width="7"/><ellipse cx="680" cy="820" rx="9" ry="16" fill="#666" stroke="#3a3a3a" stroke-width="2"/><ellipse cx="680" cy="860" rx="9" ry="16" fill="#666" stroke="#3a3a3a" stroke-width="2"/><ellipse cx="680" cy="915" rx="9" ry="16" fill="#666" stroke="#3a3a3a" stroke-width="2"/><polygon points="2057,285 2290,322 2407,690 2517,760 2530,945 2545,955 2540,1020 2460,1030 2290,1065 2057,1085" fill="#fdfdfd" stroke="#3a3a3a" stroke-width="4" stroke-linejoin="round" /><polygon points="2077,440 2302,440 2302,790 2245,1060 2077,1060" fill="#fefefe" stroke="#3a3a3a" stroke-width="4" stroke-linejoin="round" /><rect x="2097" y="460" width="188" height="245" rx="22" fill="#cfcfcf" stroke="#333" stroke-width="6"/><polygon points="2105,475 2275,475 2270,520 2105,560" fill="#8a8a8a" stroke="none" stroke-width="0" stroke-linejoin="round" /><polygon points="2105,640 2180,620 2275,660 2275,695 2105,695" fill="#8f8f8f" stroke="none" stroke-width="0" stroke-linejoin="round" /><line x1="2185" y1="465" x2="2185" y2="700" stroke="#444" stroke-width="5" /><polygon points="2318,470 2345,462 2402,690 2330,700 2312,690" fill="#d5d5d5" stroke="#3a3a3a" stroke-width="5" stroke-linejoin="round" /><polygon points="2320,640 2395,650 2400,690 2330,698" fill="#8a8a8a" stroke="none" stroke-width="0" stroke-linejoin="round" /><line x1="2282" y1="318" x2="2345" y2="470" stroke="#3a3a3a" stroke-width="4" /><line x1="2290" y1="322" x2="2395" y2="455" stroke="#3a3a3a" stroke-width="3" /><rect x="2368" y="493" width="38" height="108" rx="12" fill="#e4e4e4" stroke="#333" stroke-width="5"/><rect x="2371" y="628" width="36" height="48" rx="10" fill="#e4e4e4" stroke="#333" stroke-width="5"/><path d="M2312,440 L2390,445 L2395,495" fill="none" stroke="#333" stroke-width="4"/><rect x="2268" y="722" width="16" height="62" rx="8" fill="#ccc" stroke="#333" stroke-width="4"/><line x1="2415" y1="700" x2="2420" y2="990" stroke="#555" stroke-width="3" /><line x1="2395" y1="855" x2="2432" y2="852" stroke="#444" stroke-width="4" /><ellipse cx="2500" cy="885" rx="11" ry="11" fill="#ddd" stroke="#3a3a3a" stroke-width="3"/><polygon points="2455,958 2547,955 2542,1022 2455,1028" fill="#9a9a9a" stroke="#3a3a3a" stroke-width="4" stroke-linejoin="round" /><path d="M2222,1085 C2225,880 2470,860 2485,1030 L2455,1035 C2440,930 2290,930 2270,1085 Z" fill="#3c3c3c"/><ellipse cx="2357" cy="1055" rx="122" ry="122" fill="#777" stroke="#3a3a3a" stroke-width="5"/><ellipse cx="2357" cy="1055" rx="112" ry="112" fill="#8a8a8a" stroke="#555" stroke-width="2"/><ellipse cx="2372" cy="1060" rx="66" ry="84" fill="#ececec" stroke="#3a3a3a" stroke-width="4"/><ellipse cx="2378" cy="1062" rx="28" ry="36" fill="#999" stroke="#3a3a3a" stroke-width="3"/><path d="M1172,640 L1172,380 Q1172,332 1240,312 Q1425,262 1608,312 Q1677,332 1677,392 L1677,640 Q1677,690 1630,690 L1218,690 Q1172,690 1172,640 Z" fill="#fdfdfd" stroke="#3b3b3b" stroke-width="11"/><text x="1220" y="400" font-family='"Liberation Sans", sans-serif' font-weight="bold" font-size="80" fill="#3b3b3b" textLength="202" lengthAdjust="spacingAndGlyphs">FOOD</text><text x="1217" y="562" font-family='"Liberation Sans", sans-serif' font-weight="bold" font-size="196" fill="#3b3b3b" stroke="#3b3b3b" stroke-width="7" textLength="425" lengthAdjust="spacingAndGlyphs">MFD</text><text x="1220" y="650" font-family='"Liberation Sans", sans-serif' font-weight="bold" font-size="86" fill="#3b3b3b" textLength="412" lengthAdjust="spacingAndGlyphs">SHARGITY</text><path d="M1465,372 Q1500,340 1560,348 Q1600,352 1606,384 Z" fill="#3b3b3b"/><path d="M1462,388 Q1530,372 1608,396" fill="none" stroke="#3b3b3b" stroke-width="9"/><path d="M1462,408 Q1530,392 1608,416" fill="none" stroke="#3b3b3b" stroke-width="11"/><polygon points="560,860 640,850 650,960 570,960" fill="#666" stroke="#3a3a3a" stroke-width="3" stroke-linejoin="round" /><polygon points="455,870 560,850 565,945 455,948" fill="#eee" stroke="#3a3a3a" stroke-width="3" stroke-linejoin="round" /><polygon points="605,870 665,860 665,960 605,955" fill="#f0f0f0" stroke="#3a3a3a" stroke-width="3" stroke-linejoin="round" /><polygon points="560,850 640,850 640,900 560,900" fill="#555" stroke="#3a3a3a" stroke-width="4" stroke-linejoin="round" /><polygon points="500,700 585,665 640,720 650,850 560,860 540,800 500,790" fill="#d9d9d9" stroke="#3a3a3a" stroke-width="4" stroke-linejoin="round" /><polygon points="590,690 640,720 648,830 600,810" fill="#666" stroke="#3a3a3a" stroke-width="3" stroke-linejoin="round" /><ellipse cx="520" cy="655" rx="36" ry="36" fill="#e8e8e8" stroke="#3a3a3a" stroke-width="3.5"/><path d="M484,655 Q482,612 525,615 Q556,620 556,650 Q520,632 484,655 Z" fill="#3a3a3a"/><polygon points="80,870 110,800 150,790 160,950 110,965 85,940" fill="#8d8d8d" stroke="#3a3a3a" stroke-width="4" stroke-linejoin="round" /><polygon points="138,985 240,985 225,1130 215,1240 240,1265 150,1275 160,1130" fill="#c4c4c4" stroke="#3a3a3a" stroke-width="4" stroke-linejoin="round" /><polygon points="125,800 165,752 235,775 250,880 240,990 135,990" fill="#dedede" stroke="#3a3a3a" stroke-width="4" stroke-linejoin="round" /><ellipse cx="212" cy="722" rx="36" ry="36" fill="#e8e8e8" stroke="#3a3a3a" stroke-width="3.5"/><path d="M172,722 Q168,680 212,680 Q250,682 258,708 L236,716 Q210,700 172,722 Z" fill="#c9c9c9" stroke="#333" stroke-width="3.5"/><polygon points="205,992 355,1058 362,1180 340,1300 400,1335 265,1340 262,1180" fill="#7c7c7c" stroke="#3a3a3a" stroke-width="4" stroke-linejoin="round" /><polygon points="205,992 262,880 380,820 445,830 470,910 520,1000 530,1025 490,1030 405,950 380,1000 355,1060" fill="#fbfbfb" stroke="#3a3a3a" stroke-width="4" stroke-linejoin="round" /><ellipse cx="462" cy="812" rx="46" ry="46" fill="#e8e8e8" stroke="#3a3a3a" stroke-width="3.5"/><path d="M415,815 Q410,765 462,765 Q508,768 512,812 Q490,840 470,800 Q440,800 415,815 Z" fill="#3f3f3f"/><line x1="400" y1="1100" x2="520" y2="1280" stroke="#333" stroke-width="6" /><line x1="520" y1="1100" x2="360" y2="1290" stroke="#333" stroke-width="6" /><line x1="580" y1="1110" x2="580" y2="1260" stroke="#333" stroke-width="6" /><line x1="580" y1="1260" x2="520" y2="1340" stroke="#333" stroke-width="6" /><line x1="580" y1="1260" x2="700" y2="1335" stroke="#333" stroke-width="6" /><line x1="690" y1="1105" x2="560" y2="1270" stroke="#333" stroke-width="5" /><polygon points="350,1062 720,1050 775,1085 775,1112 352,1092" fill="#f3f3f3" stroke="#3a3a3a" stroke-width="4" stroke-linejoin="round" /><line x1="352" y1="1076" x2="775" y2="1098" stroke="#555" stroke-width="3" /><ellipse cx="400" cy="1040" rx="45" ry="26" fill="#bbb" stroke="#333" stroke-width="3.5" transform="rotate(-8 400 1040)"/><ellipse cx="455" cy="1055" rx="42" ry="28" fill="#999" stroke="#333" stroke-width="3.5" transform="rotate(-8 455 1055)"/><ellipse cx="510" cy="1058" rx="50" ry="30" fill="#e2e2e2" stroke="#333" stroke-width="3.5" transform="rotate(-8 510 1058)"/><ellipse cx="575" cy="1065" rx="66" ry="32" fill="#d0d0d0" stroke="#333" stroke-width="3.5" transform="rotate(-8 575 1065)"/><ellipse cx="690" cy="1068" rx="52" ry="24" fill="#a8a8a8" stroke="#333" stroke-width="3.5" transform="rotate(-8 690 1068)"/><ellipse cx="640" cy="1035" rx="48" ry="24" fill="#ddd" stroke="#333" stroke-width="3.5" transform="rotate(-8 640 1035)"/><ellipse cx="700" cy="1040" rx="40" ry="20" fill="#c8c8c8" stroke="#333" stroke-width="3.5" transform="rotate(-8 700 1040)"/><ellipse cx="560" cy="1025" rx="40" ry="18" fill="#d8d8d8" stroke="#333" stroke-width="3.5" transform="rotate(-8 560 1025)"/><line x1="870" y1="1110" x2="1000" y2="1335" stroke="#333" stroke-width="6" /><line x1="980" y1="1110" x2="980" y2="1335" stroke="#333" stroke-width="5" /><line x1="1130" y1="1110" x2="915" y2="1260" stroke="#333" stroke-width="5" /><line x1="915" y1="1110" x2="915" y2="1300" stroke="#333" stroke-width="5" /><line x1="1690" y1="1095" x2="1560" y2="1250" stroke="#333" stroke-width="6" /><line x1="1560" y1="1095" x2="1720" y2="1330" stroke="#333" stroke-width="6" /><line x1="1640" y1="1210" x2="1580" y2="1300" stroke="#333" stroke-width="5" /><line x1="1420" y1="1110" x2="1420" y2="1180" stroke="#333" stroke-width="5" /><polygon points="765,1078 1780,1052 1770,1082 790,1112" fill="#f3f3f3" stroke="#3a3a3a" stroke-width="4" stroke-linejoin="round" /><path d="M788,1085 L788,1000 Q788,985 800,978 L800,962 L816,962 L816,978 Q828,985 828,1000 L828,1085 Z" fill="#e9e9e9" stroke="#333" stroke-width="3.5"/><rect x="788" y="1015" width="40" height="40" fill="#bbb" opacity="0.7"/><path d="M826,1085 L826,1000 Q826,985 838,978 L838,962 L854,962 L854,978 Q866,985 866,1000 L866,1085 Z" fill="#e9e9e9" stroke="#333" stroke-width="3.5"/><rect x="826" y="1015" width="40" height="40" fill="#bbb" opacity="0.7"/><path d="M864,1085 L864,1000 Q864,985 876,978 L876,962 L892,962 L892,978 Q904,985 904,1000 L904,1085 Z" fill="#e9e9e9" stroke="#333" stroke-width="3.5"/><rect x="864" y="1015" width="40" height="40" fill="#bbb" opacity="0.7"/><ellipse cx="955" cy="1045" rx="48" ry="24" fill="#d8d8d8" stroke="#333" stroke-width="3.5" transform="rotate(12 955 1045)"/><ellipse cx="1020" cy="1035" rx="46" ry="22" fill="#e6e6e6" stroke="#333" stroke-width="3.5" transform="rotate(12 1020 1035)"/><ellipse cx="960" cy="1085" rx="50" ry="18" fill="#bdbdbd" stroke="#333" stroke-width="3.5" transform="rotate(12 960 1085)"/><ellipse cx="1045" cy="1080" rx="42" ry="18" fill="#cfcfcf" stroke="#333" stroke-width="3.5" transform="rotate(12 1045 1080)"/><ellipse cx="1090" cy="1020" rx="32" ry="20" fill="#bbb" stroke="#333" stroke-width="3.5" transform="rotate(12 1090 1020)"/><ellipse cx="1110" cy="1075" rx="24" ry="18" fill="#999" stroke="#333" stroke-width="3.5" transform="rotate(12 1110 1075)"/><ellipse cx="1150" cy="1072" rx="22" ry="18" fill="#aaa" stroke="#333" stroke-width="3.5" transform="rotate(12 1150 1072)"/><ellipse cx="1185" cy="1070" rx="20" ry="20" fill="#888" stroke="#333" stroke-width="3.5" transform="rotate(12 1185 1070)"/><polygon points="1028,995 1135,995 1140,1290 1170,1320 1035,1335 1045,1290" fill="#8a8a8a" stroke="#3a3a3a" stroke-width="4" stroke-linejoin="round" /><polygon points="990,880 1010,800 1070,762 1140,775 1150,900 1140,1000 1020,1000 1035,900" fill="#f7f7f7" stroke="#3a3a3a" stroke-width="4" stroke-linejoin="round" /><polygon points="990,880 1010,800 1050,780 1040,890" fill="#6a6a6a" stroke="#3a3a3a" stroke-width="3" stroke-linejoin="round" /><polygon points="1070,765 1140,778 1120,830 1075,830" fill="#777" stroke="#3a3a3a" stroke-width="3" stroke-linejoin="round" /><ellipse cx="1102" cy="712" rx="42" ry="42" fill="#e8e8e8" stroke="#3a3a3a" stroke-width="3.5"/><path d="M1060,712 Q1055,665 1102,668 Q1148,672 1146,715 Q1120,690 1085,700 Q1070,720 1060,745 Q1050,730 1060,712 Z" fill="#3c3c3c"/><polygon points="1215,1060 1350,1030 1340,1340 1290,1345 1285,1180 1265,1345 1225,1345" fill="#efefef" stroke="#3a3a3a" stroke-width="4" stroke-linejoin="round" /><polygon points="1150,1005 1160,870 1215,835 1290,828 1345,950 1362,1030 1215,1075 1180,1010 1130,1050 1105,1040" fill="#5e5e5e" stroke="#3a3a3a" stroke-width="4" stroke-linejoin="round" /><line x1="1170" y1="890" x2="1345" y2="855" stroke="#333" stroke-width="3" /><line x1="1170" y1="935" x2="1345" y2="900" stroke="#333" stroke-width="3" /><line x1="1170" y1="980" x2="1345" y2="945" stroke="#333" stroke-width="3" /><line x1="1170" y1="1025" x2="1345" y2="990" stroke="#333" stroke-width="3" /><ellipse cx="1188" cy="812" rx="50" ry="44" fill="#777" stroke="#3a3a3a" stroke-width="4"/><path d="M1140,815 Q1150,770 1195,770 Q1232,775 1236,812" fill="#666" stroke="#333" stroke-width="3"/><polygon points="1357,995 1475,990 1477,1075 1360,1082" fill="#f2f2f2" stroke="#3a3a3a" stroke-width="4" stroke-linejoin="round" /><line x1="1357" y1="1010" x2="1477" y2="1005" stroke="#555" stroke-width="3" /><ellipse cx="1370" cy="985" rx="22" ry="14" fill="#ccc" stroke="#3a3a3a" stroke-width="3"/><ellipse cx="1400" cy="980" rx="22" ry="14" fill="#ccc" stroke="#3a3a3a" stroke-width="3"/><ellipse cx="1432" cy="982" rx="22" ry="14" fill="#ccc" stroke="#3a3a3a" stroke-width="3"/><rect x="1480" y="995" width="40" height="78" rx="6" fill="#bdbdbd" stroke="#333" stroke-width="3.5"/><line x1="1480" y1="1013" x2="1520" y2="1013" stroke="#444" stroke-width="3"/><line x1="1480" y1="1053" x2="1520" y2="1053" stroke="#444" stroke-width="3"/><rect x="1525" y="990" width="40" height="78" rx="6" fill="#bdbdbd" stroke="#333" stroke-width="3.5"/><line x1="1525" y1="1008" x2="1565" y2="1008" stroke="#444" stroke-width="3"/><line x1="1525" y1="1048" x2="1565" y2="1048" stroke="#444" stroke-width="3"/><rect x="1565" y="988" width="40" height="78" rx="6" fill="#bdbdbd" stroke="#333" stroke-width="3.5"/><line x1="1565" y1="1006" x2="1605" y2="1006" stroke="#444" stroke-width="3"/><line x1="1565" y1="1046" x2="1605" y2="1046" stroke="#444" stroke-width="3"/><rect x="1605" y="1000" width="40" height="78" rx="6" fill="#bdbdbd" stroke="#333" stroke-width="3.5"/><line x1="1605" y1="1018" x2="1645" y2="1018" stroke="#444" stroke-width="3"/><line x1="1605" y1="1058" x2="1645" y2="1058" stroke="#444" stroke-width="3"/><polygon points="1450,985 1560,985 1545,1270 1590,1295 1455,1310 1462,1270" fill="#8d8d8d" stroke="#3a3a3a" stroke-width="4" stroke-linejoin="round" /><polygon points="1432,880 1445,810 1500,768 1572,785 1592,870 1640,890 1660,915 1610,935 1570,915 1565,990 1440,990" fill="#f6f6f6" stroke="#3a3a3a" stroke-width="4" stroke-linejoin="round" /><polygon points="1432,880 1445,810 1488,785 1480,890" fill="#666" stroke="#3a3a3a" stroke-width="3" stroke-linejoin="round" /><polygon points="1518,772 1572,785 1560,840 1520,835" fill="#707070" stroke="#3a3a3a" stroke-width="3" stroke-linejoin="round" /><ellipse cx="1537" cy="718" rx="38" ry="38" fill="#e8e8e8" stroke="#3a3a3a" stroke-width="3.5"/><path d="M1497,712 Q1500,672 1540,675 Q1572,680 1580,712 L1560,716 Q1530,700 1497,712 Z" fill="#4a4a4a" stroke="#333" stroke-width="3"/><ellipse cx="1630" cy="910" rx="36" ry="16" fill="#ddd" stroke="#3a3a3a" stroke-width="3"/><path d="M1700,945 Q1680,990 1655,1030 Q1650,1060 1700,1065 Q1755,1062 1752,1030 Q1735,985 1712,945 Z" fill="#ededed" stroke="#333" stroke-width="4"/><path d="M1690,1060 Q1700,1000 1704,950" stroke="#888" stroke-width="3" fill="none"/><polygon points="1772,1035 1885,1035 1872,1290 1880,1330 1760,1340 1810,1300 1790,1150" fill="#626262" stroke="#3a3a3a" stroke-width="4" stroke-linejoin="round" /><polygon points="1765,1040 1772,900 1800,820 1850,795 1885,850 1892,1020 1870,1040" fill="#f6f6f6" stroke="#3a3a3a" stroke-width="4" stroke-linejoin="round" /><polygon points="1782,900 1800,830 1845,850 1840,910" fill="#727272" stroke="#3a3a3a" stroke-width="3" stroke-linejoin="round" /><polygon points="1690,905 1790,900 1790,935 1690,930" fill="#e0e0e0" stroke="#3a3a3a" stroke-width="3" stroke-linejoin="round" /><ellipse cx="1797" cy="742" rx="38" ry="38" fill="#e8e8e8" stroke="#3a3a3a" stroke-width="3.5"/><path d="M1760,735 Q1765,700 1805,700 Q1840,705 1838,745 Q1830,775 1810,770 Q1815,735 1780,725 Z" fill="#444"/><ellipse cx="1848" cy="712" rx="22" ry="22" fill="#444" stroke="#3a3a3a" stroke-width="2"/><path d="M785,1240 Q727,1265 727,1345 L843,1345 Q843,1265 785,1240 Z" fill="#ededed" stroke="#333" stroke-width="4"/><path d="M773,1225 L785,1243 L799,1223" fill="none" stroke="#333" stroke-width="4"/><path d="M875,1240 Q825,1265 825,1345 L925,1345 Q925,1265 875,1240 Z" fill="#ededed" stroke="#333" stroke-width="4"/><path d="M863,1225 L875,1243 L889,1223" fill="none" stroke="#333" stroke-width="4"/></g><rect x="206.3" y="1219.2" width="1016.7" height="934.8" rx="142" ry="142" fill="none" stroke="#a5bce1" stroke-width="4.5" stroke-dasharray="13.5 5.2"/><polyline points="72.4,1345.8 215.0,1348.5" fill="none" stroke="#000" stroke-width="5.6" stroke-linejoin="miter"/><polygon points="241.0,1349.0 212.8,1361.0 213.2,1336.0" fill="#000"/><text x="258" y="1364" font-family='"Liberation Serif", serif' font-size="46.2" font-weight="bold" text-anchor="start" fill="#000" >Truncation Probability</text><polyline points="491.0,1393.3 491.0,1559.6 689.5,1559.6 689.5,1702.4" fill="none" stroke="#000" stroke-width="4.4" stroke-linejoin="miter"/><polygon points="689.5,1726.4 676.0,1700.4 703.0,1700.4" fill="#000"/><text x="357.4" y="1642.5" font-family='"Liberation Serif", serif' font-size="46.2" font-weight="bold" text-anchor="start" fill="#000" >Truncation</text><text x="357.4" y="1697.5" font-family='"Liberation Serif", serif' font-size="46.2" font-weight="bold" text-anchor="start" fill="#000" >Probability</text><text x="780" y="2101" font-family='"Liberation Serif", serif' font-size="45.8" font-weight="bold" text-anchor="middle" fill="#000" >Stochastic Demand Correction</text><rect x="759" y="1248" width="287.5" height="276" fill="#fdfdfc"/><path d="M783.8,1501.6 L786.5,1501.3 L789.2,1501.0 L791.9,1500.7 L794.6,1500.4 L797.3,1500.0 L799.9,1499.6 L802.6,1499.2 L805.3,1498.8 L808.0,1498.3 L810.7,1497.8 L813.4,1497.3 L816.1,1496.8 L818.8,1496.3 L821.5,1495.7 L824.2,1495.1 L826.9,1494.4 L829.5,1493.7 L832.2,1492.8 L834.9,1491.8 L837.6,1490.7 L840.3,1489.2 L843.0,1487.3 L845.7,1484.8 L848.4,1481.7 L851.1,1477.6 L853.8,1472.6 L856.5,1466.3 L859.2,1458.8 L861.8,1449.9 L864.5,1439.6 L867.2,1428.1 L869.9,1415.5 L872.6,1402.1 L875.3,1388.3 L878.0,1374.4 L880.7,1360.9 L883.4,1348.2 L886.1,1336.5 L888.8,1326.3 L891.4,1317.6 L894.1,1310.7 L896.8,1305.6 L899.5,1302.0 L902.2,1300.0 L904.9,1299.1 L907.6,1298.9 L910.3,1299.2 L913.0,1300.3 L915.7,1302.7 L918.4,1306.5 L921.0,1312.1 L923.7,1319.4 L926.4,1328.3 L929.1,1338.9 L931.8,1350.8 L934.5,1363.8 L937.2,1377.4 L939.9,1391.3 L942.6,1405.1 L945.3,1418.3 L948.0,1430.7 L950.6,1441.9 L953.3,1451.9 L956.0,1460.5 L958.7,1467.8 L961.4,1473.8 L964.1,1478.6 L966.8,1482.4 L969.5,1485.4 L972.2,1487.7 L974.9,1489.5 L977.6,1490.9 L980.3,1492.1 L982.9,1493.0 L985.6,1493.8 L988.3,1494.6 L991.0,1495.2 L993.7,1495.8 L996.4,1496.4 L999.1,1496.9 L1001.8,1497.5 L1004.5,1497.9 L1007.2,1498.4 L1009.9,1498.9 L1012.5,1499.3 L1015.2,1499.7 L1017.9,1500.1 L1020.6,1500.5 L1023.3,1500.8 L1026.0,1501.1" fill="none" stroke="#0a0a0a" stroke-width="13.4" stroke-linecap="round" stroke-linejoin="round"/><path d="M783.8,1501.6 L786.5,1501.3 L789.2,1501.0 L791.9,1500.7 L794.6,1500.4 L797.3,1500.0 L799.9,1499.6 L802.6,1499.2 L805.3,1498.8 L808.0,1498.3 L810.7,1497.8 L813.4,1497.3 L816.1,1496.8 L818.8,1496.3 L821.5,1495.7 L824.2,1495.1 L826.9,1494.4 L829.5,1493.7 L832.2,1492.8 L834.9,1491.8 L837.6,1490.7 L840.3,1489.2 L843.0,1487.3 L845.7,1484.8 L848.4,1481.7 L851.1,1477.6 L853.8,1472.6 L856.5,1466.3 L859.2,1458.8 L861.8,1449.9 L864.5,1439.6 L867.2,1428.1 L869.9,1415.5 L872.6,1402.1 L875.3,1388.3 L878.0,1374.4 L880.7,1360.9 L883.4,1348.2 L886.1,1336.5 L888.8,1326.3 L891.4,1317.6 L894.1,1310.7 L896.8,1305.6 L899.5,1302.0 L902.2,1300.0 L904.9,1299.1 L907.6,1298.9 L910.3,1299.2 L913.0,1300.3 L915.7,1302.7 L918.4,1306.5 L921.0,1312.1 L923.7,1319.4 L926.4,1328.3 L929.1,1338.9 L931.8,1350.8 L934.5,1363.8 L937.2,1377.4 L939.9,1391.3 L942.6,1405.1 L945.3,1418.3 L948.0,1430.7 L950.6,1441.9 L953.3,1451.9 L956.0,1460.5 L958.7,1467.8 L961.4,1473.8 L964.1,1478.6 L966.8,1482.4 L969.5,1485.4 L972.2,1487.7 L974.9,1489.5 L977.6,1490.9 L980.3,1492.1 L982.9,1493.0 L985.6,1493.8 L988.3,1494.6 L991.0,1495.2 L993.7,1495.8 L996.4,1496.4 L999.1,1496.9 L1001.8,1497.5 L1004.5,1497.9 L1007.2,1498.4 L1009.9,1498.9 L1012.5,1499.3 L1015.2,1499.7 L1017.9,1500.1 L1020.6,1500.5 L1023.3,1500.8 L1026.0,1501.1" fill="none" stroke="#fdfdfc" stroke-width="6.6" stroke-linecap="round" stroke-linejoin="round"/><line x1="907.3" y1="1262.6" x2="907.3" y2="1524" stroke="#0a0a0a" stroke-width="3.1"/><line x1="774" y1="1514.7" x2="1033.7" y2="1514.7" stroke="#0a0a0a" stroke-width="3.1"/><line x1="784.2" y1="1514.7" x2="784.2" y2="1524.6" stroke="#0a0a0a" stroke-width="2.7"/><line x1="815.2" y1="1514.7" x2="815.2" y2="1524.6" stroke="#0a0a0a" stroke-width="2.7"/><line x1="845.5" y1="1514.7" x2="845.5" y2="1524.6" stroke="#0a0a0a" stroke-width="2.7"/><line x1="876.5" y1="1514.7" x2="876.5" y2="1524.6" stroke="#0a0a0a" stroke-width="2.7"/><line x1="938.1" y1="1514.7" x2="938.1" y2="1524.6" stroke="#0a0a0a" stroke-width="2.7"/><line x1="969.1" y1="1514.7" x2="969.1" y2="1524.6" stroke="#0a0a0a" stroke-width="2.7"/><line x1="1000.0" y1="1514.7" x2="1000.0" y2="1524.6" stroke="#0a0a0a" stroke-width="2.7"/><line x1="1029.2" y1="1514.7" x2="1029.2" y2="1524.6" stroke="#0a0a0a" stroke-width="2.7"/><line x1="907.3" y1="1269.3" x2="918.2" y2="1269.3" stroke="#0a0a0a" stroke-width="2.7"/><line x1="907.3" y1="1329.9" x2="918.2" y2="1329.9" stroke="#0a0a0a" stroke-width="2.7"/><line x1="907.3" y1="1361.4" x2="918.2" y2="1361.4" stroke="#0a0a0a" stroke-width="2.7"/><line x1="907.3" y1="1391.2" x2="918.2" y2="1391.2" stroke="#0a0a0a" stroke-width="2.7"/><line x1="907.3" y1="1422.4" x2="918.2" y2="1422.4" stroke="#0a0a0a" stroke-width="2.7"/><line x1="907.3" y1="1453.4" x2="918.2" y2="1453.4" stroke="#0a0a0a" stroke-width="2.7"/><line x1="907.3" y1="1484.2" x2="918.2" y2="1484.2" stroke="#0a0a0a" stroke-width="2.7"/><rect x="331" y="1727" width="714" height="291" fill="#fefefd"/><rect x="362.11" y="1889.4" width="9.62" height="80.8" fill="#e8382c"/><rect x="372.43" y="1929.8" width="9.62" height="40.4" fill="#e8382c"/><rect x="382.75" y="1892.9" width="9.62" height="77.3" fill="#e8382c"/><rect x="393.07" y="1861.9" width="9.62" height="108.3" fill="#e8382c"/><rect x="403.38" y="1871.2" width="9.62" height="99.0" fill="#e8382c"/><rect x="413.70" y="1924.4" width="9.62" height="45.8" fill="#e8382c"/><rect x="424.02" y="1769.1" width="9.62" height="201.1" fill="#e8382c"/><rect x="434.34" y="1807.9" width="9.62" height="162.3" fill="#e8382c"/><rect x="444.66" y="1869.6" width="9.62" height="100.6" fill="#e8382c"/><rect x="454.97" y="1856.8" width="9.62" height="113.4" fill="#e8382c"/><rect x="465.29" y="1807.9" width="9.62" height="162.3" fill="#e8382c"/><rect x="475.61" y="1874.7" width="9.62" height="95.5" fill="#e8382c"/><rect x="485.93" y="1840.9" width="9.62" height="129.3" fill="#e8382c"/><rect x="496.25" y="1896.8" width="9.62" height="73.4" fill="#e8382c"/><rect x="506.56" y="1823.8" width="9.62" height="146.4" fill="#e8382c"/><rect x="516.88" y="1898.8" width="9.62" height="71.4" fill="#e8382c"/><rect x="527.20" y="1930.2" width="9.62" height="40.0" fill="#e8382c"/><rect x="537.52" y="1875.9" width="9.62" height="94.3" fill="#e8382c"/><rect x="547.84" y="1921.3" width="9.62" height="48.9" fill="#e8382c"/><line x1="353.6" y1="1970.5" x2="566" y2="1970.5" stroke="#1b2440" stroke-width="1.4"/><text x="459.2" y="1999" font-family='"Liberation Sans", sans-serif' font-size="18.7" font-weight="normal" text-anchor="middle" fill="#1b2142" stroke="#1b2142" stroke-width="0.5">Raw Demand</text><rect x="589.19" y="1968.2" width="9.98" height="2.0" fill="#c3d6f8"/><rect x="599.67" y="1965.3" width="9.98" height="4.9" fill="#c3d6f8"/><rect x="610.15" y="1959.3" width="9.98" height="10.9" fill="#c3d6f8"/><rect x="620.63" y="1948.1" width="9.98" height="22.1" fill="#c3d6f8"/><rect x="631.11" y="1929.8" width="9.98" height="40.4" fill="#c3d6f8"/><rect x="641.59" y="1903.2" width="9.98" height="67.0" fill="#c3d6f8"/><rect x="652.07" y="1869.9" width="9.98" height="100.3" fill="#c3d6f8"/><rect x="662.56" y="1834.5" width="9.98" height="135.7" fill="#c3d6f8"/><rect x="673.04" y="1804.2" width="9.98" height="166.0" fill="#c3d6f8"/><rect x="683.52" y="1779.2" width="9.98" height="191.0" fill="#c3d6f8"/><rect x="694.00" y="1779.2" width="9.98" height="191.0" fill="#c3d6f8"/><rect x="704.48" y="1804.2" width="9.98" height="166.0" fill="#c3d6f8"/><rect x="714.96" y="1834.5" width="9.98" height="135.7" fill="#c3d6f8"/><rect x="725.44" y="1869.9" width="9.98" height="100.3" fill="#c3d6f8"/><rect x="735.93" y="1903.2" width="9.98" height="67.0" fill="#c3d6f8"/><rect x="746.41" y="1929.8" width="9.98" height="40.4" fill="#c3d6f8"/><rect x="756.89" y="1948.1" width="9.98" height="22.1" fill="#c3d6f8"/><rect x="767.37" y="1959.3" width="9.98" height="10.9" fill="#c3d6f8"/><rect x="777.85" y="1965.3" width="9.98" height="4.9" fill="#c3d6f8"/><rect x="788.33" y="1968.2" width="9.98" height="2.0" fill="#c3d6f8"/><path d="M590.0,1968.9 L592.1,1968.6 L594.2,1968.3 L596.3,1967.9 L598.4,1967.4 L600.5,1966.9 L602.5,1966.2 L604.6,1965.4 L606.7,1964.6 L608.8,1963.6 L610.9,1962.4 L613.0,1961.1 L615.1,1959.5 L617.2,1957.8 L619.3,1955.9 L621.4,1953.7 L623.4,1951.3 L625.5,1948.6 L627.6,1945.6 L629.7,1942.3 L631.8,1938.7 L633.9,1934.8 L636.0,1930.5 L638.1,1926.0 L640.2,1921.1 L642.2,1915.8 L644.3,1910.3 L646.4,1904.4 L648.5,1898.2 L650.6,1891.8 L652.7,1885.2 L654.8,1878.4 L656.9,1871.4 L659.0,1864.3 L661.1,1857.2 L663.1,1850.0 L665.2,1843.0 L667.3,1836.0 L669.4,1829.3 L671.5,1822.7 L673.6,1816.6 L675.7,1810.7 L677.8,1805.4 L679.9,1800.5 L682.0,1796.2 L684.0,1792.5 L686.1,1789.4 L688.2,1787.0 L690.3,1785.4 L692.4,1784.4 L694.5,1784.2 L696.6,1784.8 L698.7,1786.1 L700.8,1788.1 L702.9,1790.8 L705.0,1794.2 L707.0,1798.2 L709.1,1802.8 L711.2,1807.9 L713.3,1813.5 L715.4,1819.5 L717.5,1825.8 L719.6,1832.5 L721.7,1839.3 L723.8,1846.3 L725.9,1853.5 L727.9,1860.6 L730.0,1867.7 L732.1,1874.8 L734.2,1881.7 L736.3,1888.4 L738.4,1894.9 L740.5,1901.2 L742.6,1907.2 L744.7,1913.0 L746.8,1918.4 L748.8,1923.4 L750.9,1928.2 L753.0,1932.6 L755.1,1936.7 L757.2,1940.5 L759.3,1943.9 L761.4,1947.1 L763.5,1949.9 L765.6,1952.5 L767.6,1954.8 L769.7,1956.8 L771.8,1958.7 L773.9,1960.3 L776.0,1961.7 L778.1,1963.0 L780.2,1964.1 L782.3,1965.0 L784.4,1965.8 L786.5,1966.5 L788.5,1967.1 L790.6,1967.6 L792.7,1968.1 L794.8,1968.5 L796.9,1968.8 L799.0,1969.0" fill="none" stroke="#1f62dc" stroke-width="2.2"/><line x1="589" y1="1970.5" x2="799.6" y2="1970.5" stroke="#1b2440" stroke-width="1.4"/><path d="M824.4,1970.2 L824.4,1969.5 L830.3,1969.5 L830.2,1968.8 L836.1,1968.8 L836.1,1967.8 L842.0,1967.8 L842.0,1966.0 L847.8,1966.0 L847.8,1963.1 L853.7,1963.1 L853.7,1958.8 L859.5,1958.8 L859.5,1952.4 L865.4,1952.4 L865.4,1943.6 L871.2,1943.6 L871.2,1931.8 L877.1,1931.8 L877.1,1916.7 L882.9,1916.7 L882.9,1898.3 L888.8,1898.3 L888.8,1877.2 L894.6,1877.2 L894.6,1854.3 L900.5,1854.3 L900.5,1830.9 L906.3,1830.9 L906.3,1808.8 L912.2,1808.8 L912.2,1790.0 L918.0,1790.0 L918.0,1776.2 L923.9,1776.2 L923.9,1768.9 L929.7,1768.9 L929.7,1768.9 L935.6,1768.9 L935.6,1776.2 L941.4,1776.2 L941.4,1790.0 L947.3,1790.0 L947.2,1808.8 L953.1,1808.8 L953.1,1830.9 L959.0,1830.9 L959.0,1854.3 L964.8,1854.3 L964.8,1877.2 L970.7,1877.2 L970.7,1898.3 L976.5,1898.3 L976.5,1916.7 L982.4,1916.7 L982.4,1931.8 L988.2,1931.8 L988.2,1943.6 L994.1,1943.6 L994.1,1952.4 L999.9,1952.4 L999.9,1958.8 L1005.8,1958.8 L1005.8,1963.1 L1011.6,1963.1 L1011.6,1966.0 L1017.5,1966.0 L1017.5,1967.8 L1023.3,1967.8 L1023.3,1968.8 L1029.2,1968.8 L1029.2,1969.5 L1035.0,1969.5 L1035.0,1970.2 Z" fill="#2463eb"/><line x1="822" y1="1970.5" x2="1035" y2="1970.5" stroke="#1b2440" stroke-width="1.4"/><text x="929.3" y="1999" font-family='"Liberation Sans", sans-serif' font-size="19.3" font-weight="normal" text-anchor="middle" fill="#1b2142" stroke="#1b2142" stroke-width="0.5">Corrected Demand</text><polyline points="1059.0,1933.0 1521.4,1929.2" fill="none" stroke="#000" stroke-width="4.6" stroke-linejoin="miter"/><polygon points="1546.4,1929.0 1519.5,1943.0 1519.3,1915.4" fill="#000"/><rect x="1377" y="1220" width="959.5" height="935.3000000000002" rx="146" ry="146" fill="none" stroke="#94724f" stroke-width="4.5" stroke-dasharray="13.5 5.2"/><rect x="1467.4" y="1393" width="778.3" height="360" fill="#fbfbf9"/><line x1="1477" y1="1690.9" x2="1751" y2="1690.9" stroke="#111" stroke-width="3.4"/><rect x="1491.3" y="1622.6" width="50.0" height="68.30000000000018" fill="#ececec" stroke="#111" stroke-width="3"/><text x="1516.3" y="1612.6" font-family='"Liberation Serif", serif' font-size="32" font-weight="normal" text-anchor="middle" fill="#000" >5.7</text><rect x="1556.5" y="1570.4" width="50.0" height="120.5" fill="#ececec" stroke="#111" stroke-width="3"/><text x="1581.5" y="1560.4" font-family='"Liberation Serif", serif' font-size="32" font-weight="normal" text-anchor="middle" fill="#000" >1.9</text><rect x="1621.7" y="1466.1" width="50.0" height="224.80000000000018" fill="#ececec" stroke="#111" stroke-width="3"/><text x="1646.7" y="1456.1" font-family='"Liberation Serif", serif' font-size="32" font-weight="normal" text-anchor="middle" fill="#000" >2.8</text><rect x="1687" y="1528.7" width="49" height="162.20000000000005" fill="#ececec" stroke="#111" stroke-width="3"/><text x="1711.5" y="1518.3" font-family='"Liberation Serif", serif' font-size="32" font-weight="normal" text-anchor="middle" fill="#000" >3.4</text><text x="1839" y="1512.6" font-family='"Liberation Serif", serif' font-size="31.3" font-weight="normal" text-anchor="middle" fill="#000" >Hamilton</text><text x="1839" y="1548.7" font-family='"Liberation Serif", serif' font-size="31.3" font-weight="normal" text-anchor="middle" fill="#000" >Method /</text><text x="1839" y="1584.4" font-family='"Liberation Serif", serif' font-size="31.3" font-weight="normal" text-anchor="middle" fill="#000" >Largest</text><text x="1839" y="1636.5" font-family='"Liberation Serif", serif' font-size="31.3" font-weight="normal" text-anchor="middle" fill="#000" >Remainder</text><line x1="1768.3" y1="1600.4" x2="1900" y2="1600.4" stroke="#111" stroke-width="3"/><path d="M1916.5 1600.4 L1893 1591 L1899 1600.4 L1893 1610 Z" fill="#111"/><text x="1612.7" y="1733" font-family='"Liberation Serif", serif' font-size="32.6" font-weight="normal" text-anchor="middle" fill="#000" >Base Quota</text><text x="1918.7" y="1733" font-family='"Liberation Serif", serif' font-size="31.6" fill="#000">Final Visit Frequency <tspan font-style="italic" font-size="35" dx="2">k</tspan><tspan font-style="italic" font-size="25" dy="8" dx="1">i</tspan></text><rect x="1952.20" y="1443" width="25.87" height="247.9000000000001" fill="#ececec" stroke="#111" stroke-width="3"/><rect x="1978.07" y="1443" width="25.87" height="247.9000000000001" fill="#ececec" stroke="#111" stroke-width="3"/><rect x="2003.94" y="1443" width="25.87" height="247.9000000000001" fill="#ececec" stroke="#111" stroke-width="3"/><rect x="2029.81" y="1443" width="25.87" height="247.9000000000001" fill="#ececec" stroke="#111" stroke-width="3"/><rect x="2055.68" y="1443" width="25.87" height="247.9000000000001" fill="#ececec" stroke="#111" stroke-width="3"/><rect x="2081.55" y="1443" width="25.87" height="247.9000000000001" fill="#ececec" stroke="#111" stroke-width="3"/><rect x="2107.42" y="1443" width="25.87" height="189.20000000000005" fill="#f4c20d" stroke="#111" stroke-width="3"/><rect x="2107.42" y="1632.2" width="25.87" height="58.700000000000045" fill="#e8793a" stroke="#111" stroke-width="3"/><rect x="2133.29" y="1443" width="25.87" height="126.09999999999991" fill="#3aa66c" stroke="#111" stroke-width="3"/><rect x="2133.29" y="1569.1" width="25.87" height="121.80000000000018" fill="#2479b9" stroke="#111" stroke-width="3"/><rect x="2159.16" y="1443" width="25.87" height="247.9000000000001" fill="#e8793a" stroke="#111" stroke-width="3"/><rect x="2185.03" y="1443" width="25.87" height="88.29999999999995" fill="#2479b9" stroke="#111" stroke-width="3"/><rect x="2185.03" y="1531.3" width="25.87" height="159.60000000000014" fill="#e8793a" stroke="#111" stroke-width="3"/><line x1="1937.8" y1="1690.9" x2="2224" y2="1690.9" stroke="#111" stroke-width="3.4"/><text x="1586.6" y="1879.9" font-family='"Liberation Serif", serif' font-size="45.8" font-weight="bold" text-anchor="start" fill="#000" >Visit Frequency</text><text x="1586.6" y="1934.5" font-family='"Liberation Serif", serif' font-size="45.8" font-weight="bold" text-anchor="start" fill="#000" >Allocation Based on the</text><text x="1586.6" y="1989.3" font-family='"Liberation Serif", serif' font-size="45.8" font-weight="bold" text-anchor="start" fill="#000" >Hamilton Method</text><polyline points="2110.3,1930.5 2445.4,1929.1" fill="none" stroke="#000" stroke-width="6" stroke-linejoin="miter"/><polygon points="2471.4,1929.0 2443.5,1943.1 2443.3,1915.1" fill="#000"/><rect x="2439" y="1213.6" width="1518" height="934.9000000000001" rx="146" ry="146" fill="none" stroke="#8fbcae" stroke-width="4.5" stroke-dasharray="13.5 5.2"/><rect x="2516.4" y="1719.6" width="121.5" height="28.7" fill="#828282"/><rect x="2759.4" y="1719.6" width="121.5" height="28.7" fill="#8e8e8e"/><rect x="2516.4" y="1748.3" width="121.5" height="28.7" fill="#cfcfcf"/><rect x="2637.9" y="1805.7" width="121.5" height="28.7" fill="#a0a0a0"/><rect x="2881.0" y="1805.7" width="121.5" height="28.7" fill="#929292"/><rect x="2637.9" y="1834.4" width="121.5" height="28.7" fill="#000"/><rect x="2759.4" y="1863.1" width="121.5" height="28.7" fill="#ababab"/><rect x="2759.4" y="1891.8" width="121.5" height="28.7" fill="#555"/><line x1="2577.2" y1="1690.9" x2="2577.2" y2="1920.5" stroke="#000" stroke-width="1.9"/><line x1="2516.4" y1="1719.6" x2="3002.5" y2="1719.6" stroke="#000" stroke-width="1.9"/><line x1="2637.9" y1="1690.9" x2="2637.9" y2="1920.5" stroke="#000" stroke-width="3.6"/><line x1="2516.4" y1="1748.3" x2="3002.5" y2="1748.3" stroke="#000" stroke-width="1.9"/><line x1="2698.7" y1="1690.9" x2="2698.7" y2="1920.5" stroke="#000" stroke-width="1.9"/><line x1="2516.4" y1="1777.0" x2="3002.5" y2="1777.0" stroke="#000" stroke-width="1.9"/><line x1="2759.4" y1="1690.9" x2="2759.4" y2="1920.5" stroke="#000" stroke-width="3.6"/><line x1="2516.4" y1="1805.7" x2="3002.5" y2="1805.7" stroke="#000" stroke-width="3.6"/><line x1="2820.2" y1="1690.9" x2="2820.2" y2="1920.5" stroke="#000" stroke-width="1.9"/><line x1="2516.4" y1="1834.4" x2="3002.5" y2="1834.4" stroke="#000" stroke-width="1.9"/><line x1="2881.0" y1="1690.9" x2="2881.0" y2="1920.5" stroke="#000" stroke-width="3.6"/><line x1="2516.4" y1="1863.1" x2="3002.5" y2="1863.1" stroke="#000" stroke-width="1.9"/><line x1="2941.7" y1="1690.9" x2="2941.7" y2="1920.5" stroke="#000" stroke-width="1.9"/><line x1="2516.4" y1="1891.8" x2="3002.5" y2="1891.8" stroke="#000" stroke-width="1.9"/><rect x="2516.4" y="1690.9" width="486.0999999999999" height="229.5999999999999" fill="none" stroke="#000" stroke-width="3.8"/><text x="2493.4" y="1713.3" font-family='"Liberation Sans", sans-serif' font-size="28.6" font-weight="normal" text-anchor="middle" fill="#000" >P</text><text x="2493.4" y="1765.8999999999999" font-family='"Liberation Sans", sans-serif' font-size="28.6" font-weight="normal" text-anchor="middle" fill="#000" >Q</text><text x="2493.4" y="1819.3" font-family='"Liberation Sans", sans-serif' font-size="28.6" font-weight="normal" text-anchor="middle" fill="#000" >R</text><text x="2493.4" y="1866.1" font-family='"Liberation Sans", sans-serif' font-size="28.6" font-weight="normal" text-anchor="middle" fill="#000" >S</text><text x="2493.4" y="1915.8999999999999" font-family='"Liberation Sans", sans-serif' font-size="28.6" font-weight="normal" text-anchor="middle" fill="#000" >T</text><polyline points="2683.8,1653.0 2683.8,1480.5 2797.2,1480.5" fill="none" stroke="#000" stroke-width="4.6" stroke-linejoin="miter"/><polygon points="2823.2,1480.5 2795.2,1493.5 2795.2,1467.5" fill="#000"/><text x="2933.5" y="1469.3" font-family='"Liberation Serif", serif' font-size="46" font-weight="bold" text-anchor="middle" fill="#000" >CP-SAT</text><text x="2933.5" y="1524" font-family='"Liberation Serif", serif' font-size="46" font-weight="bold" text-anchor="middle" fill="#000" >Solver</text><text x="2774" y="2037.5" font-family='"Liberation Serif", serif' font-size="46" font-weight="bold" text-anchor="middle" fill="#000" >Periodic</text><text x="2774" y="2092.3" font-family='"Liberation Serif", serif' font-size="46" font-weight="bold" text-anchor="middle" fill="#000" >Scheduling Model</text><path d="M3116 1374.7 L3096 1374.7 Q3089.6 1374.7 3089.6 1381 L3089.6 1972 Q3089.6 1978.4 3096 1978.4 L3116 1978.4" fill="none" stroke="#000" stroke-width="5"/><path d="M3420.8,1372.3 A116,116 0 0 1 3641.4,1354.9 L3652.4,1352.9 L3624.5,1400.0 L3580.6,1372.5 L3597.7,1369.9 A70,70 0 0 0 3465.6,1382.7 Z" fill="#000"/><path d="M3646.8,1424.5 A116,116 0 0 1 3426.2,1441.9 L3415.2,1443.9 L3443.1,1396.8 L3487.0,1424.3 L3469.9,1426.9 A70,70 0 0 0 3602.0,1414.1 Z" fill="#000"/><text x="3533.8" y="1316.8" font-family='"Liberation Sans", sans-serif' font-size="19.9" font-weight="normal" text-anchor="middle" fill="#fff" stroke="#fff" stroke-width="0.5">Freezing</text><text x="3533.8" y="1493" font-family='"Liberation Sans", sans-serif' font-size="20.4" font-weight="normal" text-anchor="middle" fill="#fff" stroke="#fff" stroke-width="0.5">Functionality</text><text x="3540.6" y="1541.9" font-family='"Liberation Sans", sans-serif' font-size="23" font-weight="bold" text-anchor="middle" fill="#000" >Local Refinement Loop</text><path d="M3302.6 1369 L3363.6 1379.8 L3363.6 1445 L3302.6 1432.6 Z M3302.6 1369 L3333.3 1346.2 L3393.9 1357.6 L3363.6 1379.8 M3393.9 1357.6 L3393.9 1422.8 L3363.6 1445" fill="#fff" stroke="#000" stroke-width="3.2" stroke-linejoin="round"/><path d="M3680.5 1367.4 L3710.9 1344.6 L3772.2 1357 L3772.2 1422.8 L3740.9 1446.6 L3680.5 1434.2 Z" fill="#0a0a0a"/><line x1="3700.6" y1="1371.7" x2="3700.6" y2="1438.3" stroke="#ddd" stroke-width="1"/><line x1="3680.5" y1="1389.7" x2="3740.9" y2="1402.5" stroke="#ddd" stroke-width="1"/><line x1="3690.6" y1="1359.8" x2="3751.3" y2="1372.6" stroke="#ddd" stroke-width="1"/><line x1="3700.6" y1="1371.7" x2="3731.3" y2="1348.7" stroke="#ddd" stroke-width="1"/><line x1="3751.3" y1="1372.6" x2="3751.3" y2="1438.7" stroke="#ddd" stroke-width="1"/><line x1="3740.9" y1="1402.5" x2="3772.2" y2="1378.9" stroke="#ddd" stroke-width="1"/><line x1="3720.8" y1="1376.1" x2="3720.8" y2="1442.5" stroke="#ddd" stroke-width="1"/><line x1="3680.5" y1="1411.9" x2="3740.9" y2="1424.5" stroke="#ddd" stroke-width="1"/><line x1="3700.8" y1="1352.2" x2="3761.8" y2="1364.8" stroke="#ddd" stroke-width="1"/><line x1="3720.8" y1="1376.1" x2="3751.8" y2="1352.9" stroke="#ddd" stroke-width="1"/><line x1="3761.8" y1="1364.8" x2="3761.8" y2="1430.7" stroke="#ddd" stroke-width="1"/><line x1="3740.9" y1="1424.5" x2="3772.2" y2="1400.9" stroke="#ddd" stroke-width="1"/><path d="M3680.5 1367.4 L3740.9 1380.4 L3772.2 1357 M3740.9 1380.4 L3740.9 1446.6" fill="none" stroke="#bbb" stroke-width="1"/><line x1="3714.1" y1="1367.6" x2="3725.7" y2="1370.0" stroke="#fff" stroke-width="1.6"/><line x1="3702.7" y1="1353.8" x2="3707.8" y2="1354.9" stroke="#fff" stroke-width="2.0"/><line x1="3699.8" y1="1363.9" x2="3722.7" y2="1368.8" stroke="#fff" stroke-width="1.5"/><line x1="3729.2" y1="1353.1" x2="3745.8" y2="1356.5" stroke="#fff" stroke-width="1.0"/><line x1="3742.1" y1="1361.7" x2="3756.6" y2="1364.7" stroke="#fff" stroke-width="1.8"/><line x1="3704.0" y1="1352.7" x2="3722.8" y2="1356.6" stroke="#fff" stroke-width="1.6"/><line x1="3691.2" y1="1360.8" x2="3711.8" y2="1365.2" stroke="#fff" stroke-width="1.5"/><line x1="3745.3" y1="1359.8" x2="3763.2" y2="1363.5" stroke="#fff" stroke-width="2.1"/><line x1="3731.4" y1="1366.6" x2="3744.4" y2="1369.3" stroke="#fff" stroke-width="2.1"/><line x1="3712.0" y1="1348.3" x2="3719.4" y2="1349.8" stroke="#fff" stroke-width="1.1"/><line x1="3731.2" y1="1349.7" x2="3747.6" y2="1353.0" stroke="#fff" stroke-width="1.2"/><line x1="3714.7" y1="1359.8" x2="3726.0" y2="1362.1" stroke="#fff" stroke-width="1.6"/><line x1="3742.3" y1="1363.2" x2="3759.2" y2="1366.7" stroke="#fff" stroke-width="2.1"/><line x1="3755.0" y1="1357.8" x2="3767.7" y2="1360.4" stroke="#fff" stroke-width="1.0"/><line x1="3753.9" y1="1357.4" x2="3767.8" y2="1360.3" stroke="#fff" stroke-width="1.6"/><line x1="3712.5" y1="1353.2" x2="3732.6" y2="1357.4" stroke="#fff" stroke-width="1.6"/><line x1="3692.2" y1="1361.6" x2="3712.6" y2="1365.9" stroke="#fff" stroke-width="2.2"/><line x1="3721.9" y1="1373.7" x2="3734.2" y2="1376.3" stroke="#fff" stroke-width="1.0"/><line x1="3726.7" y1="1368.6" x2="3747.5" y2="1373.0" stroke="#fff" stroke-width="0.9"/><line x1="3701.4" y1="1353.8" x2="3719.4" y2="1357.6" stroke="#fff" stroke-width="1.3"/><line x1="3755.3" y1="1357.1" x2="3768.5" y2="1359.8" stroke="#fff" stroke-width="2.2"/><line x1="3693.7" y1="1361.1" x2="3709.4" y2="1364.5" stroke="#fff" stroke-width="0.8"/><line x1="3706.3" y1="1367.1" x2="3722.2" y2="1370.5" stroke="#fff" stroke-width="1.0"/><line x1="3723.7" y1="1375.4" x2="3734.3" y2="1377.7" stroke="#fff" stroke-width="2.1"/><line x1="3726.3" y1="1350.7" x2="3739.6" y2="1353.4" stroke="#fff" stroke-width="1.5"/><line x1="3729.1" y1="1358.7" x2="3744.2" y2="1361.9" stroke="#fff" stroke-width="1.7"/><line x1="3733.9" y1="1351.0" x2="3746.8" y2="1353.6" stroke="#fff" stroke-width="1.8"/><line x1="3702.3" y1="1365.1" x2="3725.0" y2="1369.9" stroke="#fff" stroke-width="1.5"/><line x1="3697.7" y1="1355.0" x2="3710.2" y2="1357.6" stroke="#fff" stroke-width="1.6"/><line x1="3710.9" y1="1373.3" x2="3727.2" y2="1376.8" stroke="#fff" stroke-width="0.9"/><line x1="3722.3" y1="1357.8" x2="3739.6" y2="1361.4" stroke="#fff" stroke-width="1.3"/><line x1="3738.0" y1="1358.7" x2="3743.3" y2="1359.8" stroke="#fff" stroke-width="0.9"/><line x1="3748.1" y1="1361.7" x2="3757.5" y2="1363.6" stroke="#fff" stroke-width="1.4"/><line x1="3714.1" y1="1357.1" x2="3725.6" y2="1359.5" stroke="#fff" stroke-width="1.2"/><line x1="3720.7" y1="1365.1" x2="3731.0" y2="1367.2" stroke="#fff" stroke-width="1.3"/><line x1="3705.3" y1="1350.1" x2="3720.6" y2="1353.2" stroke="#fff" stroke-width="1.8"/><line x1="3700.7" y1="1362.6" x2="3720.2" y2="1366.7" stroke="#fff" stroke-width="1.1"/><line x1="3707.3" y1="1367.6" x2="3724.8" y2="1371.3" stroke="#fff" stroke-width="0.9"/><line x1="3706.5" y1="1363.5" x2="3726.5" y2="1367.7" stroke="#fff" stroke-width="1.4"/><line x1="3714.8" y1="1349.6" x2="3725.9" y2="1351.8" stroke="#fff" stroke-width="1.7"/><line x1="3729.5" y1="1351.7" x2="3738.5" y2="1353.6" stroke="#fff" stroke-width="1.0"/><line x1="3705.9" y1="1357.3" x2="3725.5" y2="1361.3" stroke="#fff" stroke-width="2.0"/><line x1="3699.6" y1="1366.1" x2="3719.1" y2="1370.2" stroke="#fff" stroke-width="1.7"/><line x1="3721.9" y1="1352.5" x2="3729.2" y2="1354.0" stroke="#fff" stroke-width="1.2"/><line x1="3717.9" y1="1352.0" x2="3729.1" y2="1354.3" stroke="#fff" stroke-width="1.4"/><line x1="3713.2" y1="1362.0" x2="3734.8" y2="1366.5" stroke="#fff" stroke-width="1.0"/><line x1="3700.9" y1="1352.4" x2="3711.2" y2="1344.7" stroke="#fff" stroke-width="0.9"/><line x1="3749.6" y1="1373.1" x2="3761.7" y2="1364.1" stroke="#fff" stroke-width="0.9"/><line x1="3741.4" y1="1375.8" x2="3751.5" y2="1368.3" stroke="#fff" stroke-width="0.9"/><line x1="3745.5" y1="1367.5" x2="3753.5" y2="1361.5" stroke="#fff" stroke-width="0.9"/><line x1="3705.3" y1="1365.7" x2="3710.4" y2="1361.8" stroke="#fff" stroke-width="0.9"/><line x1="3697.2" y1="1358.9" x2="3702.8" y2="1354.6" stroke="#fff" stroke-width="0.9"/><line x1="3730.4" y1="1377.2" x2="3742.0" y2="1368.6" stroke="#fff" stroke-width="0.9"/><line x1="3742.5" y1="1361.4" x2="3753.4" y2="1353.2" stroke="#fff" stroke-width="0.9"/><line x1="3747.4" y1="1369.7" x2="3750.7" y2="1367.2" stroke="#fff" stroke-width="0.9"/><line x1="3729.3" y1="1374.3" x2="3735.2" y2="1369.9" stroke="#fff" stroke-width="0.9"/><line x1="3731.9" y1="1367.5" x2="3738.9" y2="1362.3" stroke="#fff" stroke-width="0.9"/><line x1="3750.6" y1="1369.6" x2="3756.9" y2="1364.9" stroke="#fff" stroke-width="0.9"/><line x1="3714.2" y1="1356.8" x2="3721.7" y2="1351.3" stroke="#fff" stroke-width="0.9"/><line x1="3735.4" y1="1371.8" x2="3740.4" y2="1368.1" stroke="#fff" stroke-width="0.9"/><line x1="3761.4" y1="1400.4" x2="3764.3" y2="1398.2" stroke="#ccc" stroke-width="0.7"/><line x1="3725.0" y1="1429.5" x2="3740.2" y2="1432.7" stroke="#ccc" stroke-width="0.7"/><line x1="3741.1" y1="1434.8" x2="3747.6" y2="1429.9" stroke="#ccc" stroke-width="0.7"/><line x1="3682.9" y1="1425.5" x2="3690.0" y2="1427.0" stroke="#ccc" stroke-width="0.7"/><line x1="3754.1" y1="1388.3" x2="3759.0" y2="1384.6" stroke="#ccc" stroke-width="0.7"/><line x1="3718.0" y1="1406.9" x2="3721.1" y2="1407.5" stroke="#ccc" stroke-width="0.7"/><line x1="3744.1" y1="1381.7" x2="3746.6" y2="1379.8" stroke="#ccc" stroke-width="0.7"/><line x1="3727.6" y1="1382.1" x2="3740.9" y2="1384.9" stroke="#ccc" stroke-width="0.7"/><line x1="3753.5" y1="1376.7" x2="3757.5" y2="1373.7" stroke="#ccc" stroke-width="0.7"/><line x1="3697.5" y1="1392.0" x2="3710.3" y2="1394.7" stroke="#ccc" stroke-width="0.7"/><line x1="3749.9" y1="1412.4" x2="3753.0" y2="1410.1" stroke="#ccc" stroke-width="0.7"/><line x1="3686.5" y1="1390.6" x2="3697.9" y2="1393.0" stroke="#ccc" stroke-width="0.7"/><line x1="3750.4" y1="1420.6" x2="3752.6" y2="1418.9" stroke="#ccc" stroke-width="0.7"/><line x1="3698.5" y1="1383.2" x2="3710.7" y2="1385.8" stroke="#ccc" stroke-width="0.7"/><line x1="3750.4" y1="1425.0" x2="3758.3" y2="1419.1" stroke="#ccc" stroke-width="0.7"/><line x1="3701.4" y1="1413.4" x2="3710.0" y2="1415.2" stroke="#ccc" stroke-width="0.7"/><line x1="3758.5" y1="1400.0" x2="3763.4" y2="1396.3" stroke="#ccc" stroke-width="0.7"/><line x1="3702.8" y1="1418.4" x2="3709.5" y2="1419.8" stroke="#ccc" stroke-width="0.7"/><line x1="3758.3" y1="1402.7" x2="3760.4" y2="1401.1" stroke="#ccc" stroke-width="0.7"/><line x1="3701.1" y1="1400.1" x2="3717.4" y2="1403.6" stroke="#ccc" stroke-width="0.7"/><line x1="3750.3" y1="1435.3" x2="3758.9" y2="1428.8" stroke="#ccc" stroke-width="0.7"/><line x1="3693.2" y1="1422.9" x2="3703.2" y2="1424.9" stroke="#ccc" stroke-width="0.7"/><line x1="3761.3" y1="1373.3" x2="3768.0" y2="1368.2" stroke="#ccc" stroke-width="0.7"/><line x1="3718.8" y1="1434.6" x2="3731.9" y2="1437.3" stroke="#ccc" stroke-width="0.7"/><line x1="3755.0" y1="1418.3" x2="3757.4" y2="1416.5" stroke="#ccc" stroke-width="0.7"/><line x1="3680.7" y1="1406.7" x2="3685.9" y2="1407.8" stroke="#ccc" stroke-width="0.7"/><text x="3521" y="1623.4" font-family='"Liberation Serif", serif' font-size="45.9" font-weight="bold" text-anchor="middle" fill="#000" >Freezing &amp; Local Refinement</text><text x="3506" y="2100.8" font-family='"Liberation Serif", serif' font-size="46.2" font-weight="bold" text-anchor="middle" fill="#000" >Pruned Search Tree</text><polyline points="3857.0,2015.0 4003.5,2015.0" fill="none" stroke="#000" stroke-width="5.6" stroke-linejoin="miter"/><polygon points="4028.5,2015.0 4001.5,2028.2 4001.5,2001.8" fill="#000"/><g clip-path="url(#treeclip)"><g filter="url(#fol)"><polygon points="3225.5,1966.0 3204.2,1930.5 3204.2,1880.8 3213.7,1859.4 3245.6,1833.4 3243.3,1793.1 3281.2,1781.3 3316.7,1760.0 3334.4,1738.7 3386.5,1728.0 3642.3,1728.0 3638.7,1747.0 3696.8,1748.2 3741.7,1783.7 3726.4,1819.2 3787.9,1848.8 3789.1,1942.3 3758.3,1966.0 3711.0,1975.5 3639.9,1979.0 3545.2,1976.7 3450.5,1977.8 3355.8,1975.5 3284.7,1974.3" fill="#000"/></g></g><path d="M 3487.2,2022.8 C 3491.9,1999.2 3495.5,1982.6 3490.7,1970.7 C 3469.4,1958.9 3450.5,1951.8 3426.8,1948.2 L 3429.2,1942.3 C 3455.2,1942.3 3478.9,1949.4 3495.5,1958.9 C 3490.7,1928.1 3483.6,1899.7 3462.3,1871.3 L 3461.1,1861.8 L 3471.8,1859.4 C 3488.4,1871.3 3495.5,1880.8 3504.9,1895.0 L 3521.5,1895.0 C 3531.0,1918.6 3526.3,1932.9 3528.6,1951.8 C 3545.2,1928.1 3559.4,1911.5 3592.6,1895.0 L 3597.3,1902.1 C 3573.6,1918.6 3554.7,1942.3 3545.2,1961.3 C 3580.7,1951.8 3628.1,1949.4 3675.4,1958.9 L 3673.1,1962.5 C 3628.1,1957.7 3568.9,1961.3 3542.8,1977.8 C 3538.1,1994.4 3538.1,2008.6 3540.5,2022.8 Z" fill="#050505"/><line x1="3490.7" y1="1805.0" x2="3374.7" y2="1840.5" stroke="#fff" stroke-width="2.6" stroke-dasharray="9 5"/><line x1="3503.8" y1="1806.2" x2="3503.8" y2="1866.6" stroke="#fff" stroke-width="2.6" stroke-dasharray="9 5"/><line x1="3518.0" y1="1805.0" x2="3637.6" y2="1841.7" stroke="#fff" stroke-width="2.6" stroke-dasharray="9 5"/><line x1="3519.6" y1="1806.9" x2="3635.2" y2="1842.9" stroke="#000" stroke-width="1.6" stroke-dasharray="5 5"/><line x1="3359.3" y1="1881.9" x2="3306.0" y2="1911.5" stroke="#fff" stroke-width="2.6" stroke-dasharray="9 5"/><line x1="3375.9" y1="1881.9" x2="3433.9" y2="1911.5" stroke="#fff" stroke-width="2.6" stroke-dasharray="9 5"/><line x1="3632.8" y1="1881.9" x2="3573.6" y2="1912.7" stroke="#fff" stroke-width="3.2" stroke-dasharray="9 5"/><line x1="3647.0" y1="1881.9" x2="3703.9" y2="1912.7" stroke="#fff" stroke-width="2.6" stroke-dasharray="9 5"/><line x1="3296.6" y1="1950.6" x2="3263.4" y2="1977.8" stroke="#000" stroke-width="2.2"/><line x1="3303.7" y1="1950.6" x2="3332.1" y2="1977.8" stroke="#000" stroke-width="2.2" stroke-dasharray="7 4"/><line x1="3432.7" y1="1950.6" x2="3400.8" y2="1977.8" stroke="#000" stroke-width="2.2"/><line x1="3439.8" y1="1950.6" x2="3469.4" y2="1977.8" stroke="#000" stroke-width="2.2"/><line x1="3571.2" y1="1950.6" x2="3540.5" y2="1977.8" stroke="#000" stroke-width="2.4" stroke-dasharray="7 4"/><line x1="3576.0" y1="1950.6" x2="3605.6" y2="1977.8" stroke="#000" stroke-width="2.2" stroke-dasharray="7 4"/><line x1="3578.4" y1="1953.0" x2="3592.6" y2="1966.0" stroke="#fff" stroke-width="2.2" stroke-dasharray="7 4"/><line x1="3701.5" y1="1950.6" x2="3673.1" y2="1977.8" stroke="#000" stroke-width="2.4" stroke-dasharray="7 4"/><line x1="3709.8" y1="1950.6" x2="3739.4" y2="1977.8" stroke="#000" stroke-width="2.2" stroke-dasharray="7 4"/><path d="M3494.76 1869.392 L3512.76 1887.392 M3512.76 1869.392 L3494.76 1887.392" stroke="#fff" stroke-width="5.2" fill="none"/><ellipse cx="3503.8" cy="1784.9" rx="74.6" ry="19.4" fill="#fff" stroke="#000" stroke-width="1.7"/><text x="3503.8" y="1790.1" font-family='"Liberation Sans", sans-serif' font-size="14.9" font-weight="normal" text-anchor="middle" fill="#111" >Lazy Clause Tree</text><ellipse cx="3367.6" cy="1861.8" rx="56.8" ry="18.5" fill="#fff" stroke="#000" stroke-width="1.7"/><text x="3367.6" y="1867.2" font-family='"Liberation Sans", sans-serif' font-size="15.4" font-weight="normal" text-anchor="middle" fill="#111" >Clause</text><ellipse cx="3639.2" cy="1861.8" rx="56.8" ry="18.5" fill="#fff" stroke="#000" stroke-width="1.7"/><text x="3639.2" y="1867.2" font-family='"Liberation Sans", sans-serif' font-size="15.4" font-weight="normal" text-anchor="middle" fill="#111" >Search</text><ellipse cx="3301.3" cy="1931.7" rx="44.0" ry="17.5" fill="#fff" stroke="#000" stroke-width="1.7"/><text x="3301.3" y="1937.1" font-family='"Liberation Sans", sans-serif' font-size="15.4" font-weight="normal" text-anchor="middle" fill="#111" >Tree</text><ellipse cx="3435.6" cy="1931.7" rx="44.0" ry="17.5" fill="#fff" stroke="#000" stroke-width="1.7"/><text x="3435.6" y="1937.1" font-family='"Liberation Sans", sans-serif' font-size="15.4" font-weight="normal" text-anchor="middle" fill="#111" >Taze</text><ellipse cx="3572.9" cy="1931.7" rx="44.0" ry="17.5" fill="#fff" stroke="#000" stroke-width="1.7"/><text x="3572.9" y="1937.1" font-family='"Liberation Sans", sans-serif' font-size="15.4" font-weight="normal" text-anchor="middle" fill="#111" >Search</text><ellipse cx="3705.0" cy="1931.7" rx="44.0" ry="17.5" fill="#fff" stroke="#000" stroke-width="1.7"/><text x="3705.0" y="1937.1" font-family='"Liberation Sans", sans-serif' font-size="15.4" font-weight="normal" text-anchor="middle" fill="#111" >Space</text><ellipse cx="3261.5" cy="1996.1" rx="31.5" ry="17.3" fill="#fff" stroke="#000" stroke-width="1.7"/><text x="3261.5" y="2001.5" font-family='"Liberation Sans", sans-serif' font-size="15.4" font-weight="normal" text-anchor="middle" fill="#111" >Tree</text><ellipse cx="3331.4" cy="1996.1" rx="31.5" ry="17.3" fill="#fff" stroke="#000" stroke-width="1.7"/><path d="M3324.4 1989.1 L3338.4 2003.1 M3338.4 1989.1 L3324.4 2003.1" stroke="#000" stroke-width="4.2" fill="none"/><ellipse cx="3400.8" cy="1996.1" rx="31.5" ry="17.3" fill="#fff" stroke="#000" stroke-width="1.7"/><ellipse cx="3469.4" cy="1996.1" rx="31.5" ry="17.3" fill="#fff" stroke="#000" stroke-width="1.7"/><ellipse cx="3540.5" cy="1996.1" rx="31.5" ry="17.3" fill="#fff" stroke="#000" stroke-width="1.7"/><path d="M3533.5 1989.1 L3547.5 2003.1 M3547.5 1989.1 L3533.5 2003.1" stroke="#000" stroke-width="4.2" fill="none"/><ellipse cx="3606.8" cy="1996.1" rx="31.5" ry="17.3" fill="#fff" stroke="#000" stroke-width="1.7"/><path d="M3599.8 1989.1 L3613.8 2003.1 M3613.8 1989.1 L3599.8 2003.1" stroke="#000" stroke-width="4.2" fill="none"/><ellipse cx="3674.3" cy="1996.1" rx="31.5" ry="17.3" fill="#fff" stroke="#000" stroke-width="1.7"/><ellipse cx="3740.6" cy="1996.1" rx="31.5" ry="17.3" fill="#fff" stroke="#000" stroke-width="1.7"/>
</svg>
</body></html>
